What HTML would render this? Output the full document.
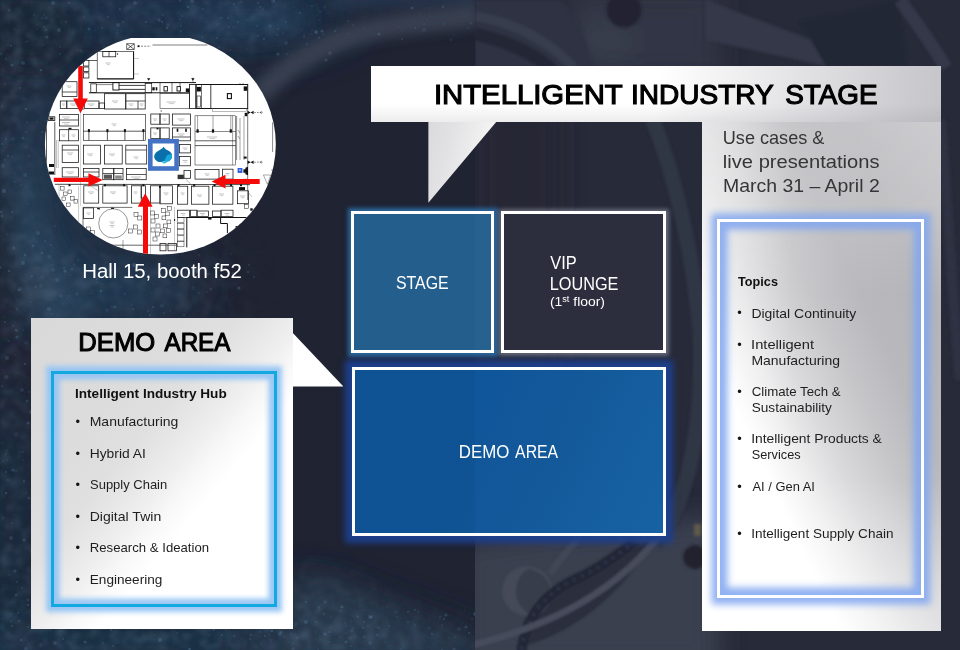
<!DOCTYPE html>
<html lang="en">
<head>
<meta charset="utf-8">
<title>Intelligent Industry Stage</title>
<style>
*{box-sizing:border-box;margin:0;padding:0}
html,body{width:960px;height:650px;overflow:hidden;background:#212539}
body{font-family:"Liberation Sans",sans-serif;color:#111;position:relative}
#page{position:absolute;left:0;top:0;width:960px;height:650px;overflow:hidden;background:#212539}
.abs{position:absolute}
.t{position:absolute;white-space:nowrap;line-height:1;transform-origin:0 0}
.b{font-weight:bold}
sup{font-size:66%;line-height:0;vertical-align:baseline;position:relative;top:-0.44em}
.bl{font-size:12.9px;color:#161616;transform:translateZ(0)}
#bg{position:absolute;left:0;top:0;width:960px;height:650px}
#map{position:absolute;left:44px;top:38px;width:232px;height:218px;overflow:hidden}
#banner{left:371.3px;top:65.8px;width:569.6px;height:56.4px;background:linear-gradient(180deg,rgba(0,0,0,0) 0%,rgba(0,0,0,0) 68%,rgba(110,110,120,.13) 100%),linear-gradient(97deg,#fff 0%,#fff 50%,#efeff0 64%,#dcdcdf 80%,#cbcbcf 94%,#c6c6ca 100%)}
#bannertri{left:428.4px;top:121.9px;width:67.8px;height:80.8px;background:linear-gradient(105deg,#dadadc 0%,#e2e2e4 30%,#f4f4f4 75%,#f8f8f8 100%);clip-path:polygon(0 0,100% 0,0 100%)}
#rpanel{left:701.9px;top:122.2px;width:239px;height:508.7px;background:linear-gradient(90deg,rgba(255,255,255,.34) 0%,rgba(255,255,255,.26) 14%,rgba(255,255,255,0) 38%),linear-gradient(0deg,rgba(255,255,255,.38) 0%,rgba(255,255,255,.3) 10%,rgba(255,255,255,0) 30%),linear-gradient(180deg,rgba(255,255,255,.2) 0%,rgba(255,255,255,.16) 16%,rgba(255,255,255,0) 34%),linear-gradient(to top right,#fff 0%,#fff 29%,#eeeeef 37%,#dadadc 45%,#c6c6c9 56%,#b9b9bd 66%,#b5b5b9 80%,#c0c0c4 100%)}
#rbox{left:716.7px;top:219.4px;width:207.7px;height:378.8px;border:3.7px solid #fff;box-shadow:0 0 7px 6.5px rgba(130,166,240,.88),inset 0 0 7px 7.5px rgba(130,166,240,.88)}
.box{position:absolute;border:3.7px solid #fff;color:#fff}
#stage{left:350.5px;top:210.5px;width:143.7px;height:142.7px;background:linear-gradient(90deg,#235e8d 0,#235e8d 121.3px,#27618f 121.3px,#27618f 100%);box-shadow:0 0 4px 3.5px #2b669a}
#vip{left:500.6px;top:210.5px;width:165.6px;height:142.7px;background:#2c2e3d;box-shadow:0 0 4px 2.5px rgba(215,220,235,.36)}
#demo{left:351.7px;top:366.8px;width:314.5px;height:169.2px;background:linear-gradient(90deg,rgba(0,10,40,.05) 0,rgba(0,10,40,.05) 120.1px,rgba(0,0,0,0) 120.1px),linear-gradient(115deg,#10569a 0%,#10569a 38%,#13599a 60%,#1762a4 100%);box-shadow:0 0 6px 7px rgba(29,64,142,.96)}
#lpanel{left:31px;top:317.9px;width:262.1px;height:310.8px;background:linear-gradient(to bottom right,#d9d9d9 0%,#dcdcdc 28%,#e0e0e0 40%,#e7e7e7 46%,#efefef 52%,#f8f8f8 57%,#fff 63%,#fff 100%)}
#ltri{left:292.6px;top:332.8px;width:50.8px;height:53.8px;background:#fff;clip-path:polygon(0 0,100% 100%,0 100%)}
#lbox{left:51.2px;top:371px;width:226px;height:236px;border:3.4px solid #12a8e0;box-shadow:0 0 5px 4.8px rgba(148,196,243,.95),inset 0 0 5px 5.5px rgba(148,196,243,.95)}

</style>
</head>
<body>
<div id="page">
<svg id="bg" width="960" height="650" viewBox="0 0 960 650">
<defs>
<filter id="b6" x="-20%" y="-20%" width="140%" height="140%"><feGaussianBlur stdDeviation="6"/></filter>
<filter id="b12" x="-30%" y="-30%" width="160%" height="160%"><feGaussianBlur stdDeviation="12"/></filter>
<filter id="b25" x="-50%" y="-50%" width="200%" height="200%"><feGaussianBlur stdDeviation="25"/></filter>
<filter id="b1" x="-20%" y="-20%" width="140%" height="140%"><feGaussianBlur stdDeviation="0.9"/></filter>
<filter id="b05" x="0" y="0" width="100%" height="100%"><feGaussianBlur stdDeviation="0.5"/></filter>
<filter id="b3" x="-20%" y="-20%" width="140%" height="140%"><feGaussianBlur stdDeviation="1.6"/></filter>
<filter id="sp" x="0" y="0" width="100%" height="100%">
<feTurbulence type="fractalNoise" baseFrequency="0.09" numOctaves="3" seed="11" result="n"/>
<feColorMatrix type="matrix" values="0 0 0 0 0.20  0 0 0 0 0.31  0 0 0 0 0.44  1.6 1.6 0 0 -1.35"/>
<feGaussianBlur stdDeviation="1.8"/>
</filter>
<radialGradient id="swirl" cx="0.5" cy="0.5" r="0.5"><stop offset="0" stop-color="#fff"/><stop offset="0.62" stop-color="#fff"/><stop offset="1" stop-color="#000"/></radialGradient>
<mask id="lm" maskUnits="userSpaceOnUse" x="0" y="0" width="476" height="650">
<rect x="0" y="0" width="476" height="650" fill="#000"/>
<g filter="url(#b25)">
<path d="M-20 -20H330L250 50L120 30L40 90L20 200L60 300L20 330L40 650H-20Z" fill="#fff"/>
<path d="M-20 600L200 610L300 580L480 650V680H-20Z" fill="#fff"/>
<path d="M30 250H240V320H30Z" fill="#bbb"/>
</g>
</mask>
<clipPath id="lc"><rect x="0" y="0" width="475.5" height="650"/></clipPath>
<clipPath id="rc"><rect x="475.5" y="0" width="484.5" height="650"/></clipPath>
</defs>
<g clip-path="url(#lc)">
<rect x="0" y="0" width="476" height="650" fill="#1f2332"/>
<g filter="url(#b25)">
<ellipse cx="170" cy="10" rx="190" ry="45" fill="#1e3248"/>
<ellipse cx="40" cy="200" rx="50" ry="130" fill="#20364c"/>
<ellipse cx="105" cy="290" rx="95" ry="36" fill="#223b52"/>
<ellipse cx="10" cy="520" rx="34" ry="150" fill="#1c2a3e"/>
<ellipse cx="140" cy="650" rx="220" ry="34" fill="#1f344a"/>
<path d="M250 600L320 590L490 655V700H250Z" fill="#27394c"/>
</g>
<g filter="url(#b12)">
<path d="M26 150C32 200 44 250 96 318L40 326C18 280 8 220 6 160Z" fill="#2a475e" opacity="0.85"/>
<ellipse cx="38" cy="286" rx="14" ry="16" fill="#3a4253" opacity="0.7"/>
<ellipse cx="250" cy="22" rx="60" ry="18" fill="#24405b" opacity="0.8"/>
<ellipse cx="30" cy="30" rx="50" ry="40" fill="#1b2536" opacity="0.8"/>
<ellipse cx="4" cy="250" rx="12" ry="90" fill="#1c2232" opacity="0.9"/>
<path d="M296 575L330 578L480 648V660H296Z" fill="#293b4f" opacity="0.7"/>
</g>
<g filter="url(#b6)">
<path d="M258 96C288 62 330 40 372 30C400 23 440 21 480 15" fill="none" stroke="#3b4253" stroke-width="22" opacity="0.9"/>
<path d="M330 0C380 -2 430 -4 480 -8" fill="none" stroke="#263a52" stroke-width="22" opacity="0.8"/>
</g>
<rect x="0" y="0" width="476" height="650" filter="url(#sp)" mask="url(#lm)" opacity="0.26"/>
<g fill="#5b7fa3" filter="url(#b05)"><circle cx="206" cy="46" r="2.0" opacity="0.11"/><circle cx="154" cy="58" r="0.6" opacity="0.32"/><circle cx="37" cy="29" r="0.9" opacity="0.19"/><circle cx="34" cy="15" r="0.9" opacity="0.20"/><circle cx="60" cy="54" r="1.3" opacity="0.14"/><circle cx="263" cy="9" r="1.6" opacity="0.13"/><circle cx="1" cy="54" r="0.9" opacity="0.29"/><circle cx="317" cy="10" r="0.8" opacity="0.17"/><circle cx="317" cy="33" r="0.9" opacity="0.14"/><circle cx="320" cy="12" r="1.3" opacity="0.17"/><circle cx="119" cy="10" r="0.8" opacity="0.16"/><circle cx="110" cy="51" r="0.6" opacity="0.24"/><circle cx="234" cy="4" r="1.1" opacity="0.30"/><circle cx="159" cy="20" r="1.6" opacity="0.21"/><circle cx="58" cy="16" r="0.6" opacity="0.33"/><circle cx="118" cy="25" r="2.0" opacity="0.29"/><circle cx="121" cy="36" r="0.6" opacity="0.21"/><circle cx="234" cy="39" r="0.9" opacity="0.13"/><circle cx="81" cy="51" r="1.6" opacity="0.18"/><circle cx="117" cy="33" r="1.6" opacity="0.13"/><circle cx="247" cy="49" r="1.0" opacity="0.11"/><circle cx="312" cy="6" r="1.1" opacity="0.22"/><circle cx="120" cy="9" r="1.0" opacity="0.32"/><circle cx="180" cy="19" r="1.1" opacity="0.17"/><circle cx="264" cy="39" r="1.0" opacity="0.34"/><circle cx="53" cy="3" r="2.0" opacity="0.32"/><circle cx="11" cy="46" r="1.1" opacity="0.30"/><circle cx="150" cy="26" r="0.6" opacity="0.33"/><circle cx="211" cy="50" r="1.1" opacity="0.30"/><circle cx="43" cy="45" r="0.8" opacity="0.25"/><circle cx="260" cy="7" r="1.3" opacity="0.19"/><circle cx="19" cy="26" r="0.8" opacity="0.21"/><circle cx="330" cy="53" r="2.0" opacity="0.21"/><circle cx="161" cy="45" r="1.6" opacity="0.17"/><circle cx="155" cy="56" r="0.7" opacity="0.19"/><circle cx="326" cy="60" r="1.6" opacity="0.31"/><circle cx="59" cy="30" r="2.0" opacity="0.29"/><circle cx="286" cy="22" r="1.1" opacity="0.27"/><circle cx="219" cy="47" r="1.1" opacity="0.23"/><circle cx="221" cy="52" r="1.0" opacity="0.28"/><circle cx="228" cy="18" r="1.1" opacity="0.26"/><circle cx="192" cy="1" r="2.0" opacity="0.29"/><circle cx="108" cy="17" r="1.0" opacity="0.30"/><circle cx="214" cy="49" r="1.1" opacity="0.17"/><circle cx="114" cy="58" r="1.3" opacity="0.18"/><circle cx="278" cy="54" r="1.6" opacity="0.33"/><circle cx="316" cy="32" r="2.0" opacity="0.34"/><circle cx="66" cy="22" r="1.6" opacity="0.17"/><circle cx="26" cy="42" r="1.3" opacity="0.14"/><circle cx="258" cy="36" r="1.3" opacity="0.17"/><circle cx="183" cy="54" r="1.0" opacity="0.27"/><circle cx="9" cy="10" r="1.6" opacity="0.25"/><circle cx="60" cy="47" r="0.8" opacity="0.25"/><circle cx="14" cy="29" r="0.9" opacity="0.14"/><circle cx="294" cy="7" r="0.8" opacity="0.22"/><circle cx="181" cy="26" r="1.1" opacity="0.19"/><circle cx="202" cy="37" r="0.9" opacity="0.27"/><circle cx="123" cy="22" r="1.0" opacity="0.31"/><circle cx="286" cy="43" r="2.0" opacity="0.19"/><circle cx="12" cy="38" r="0.7" opacity="0.17"/><circle cx="169" cy="59" r="1.0" opacity="0.33"/><circle cx="270" cy="26" r="2.0" opacity="0.19"/><circle cx="47" cy="37" r="1.6" opacity="0.33"/><circle cx="319" cy="38" r="1.1" opacity="0.30"/><circle cx="218" cy="24" r="1.1" opacity="0.24"/><circle cx="203" cy="9" r="1.3" opacity="0.20"/><circle cx="322" cy="31" r="1.6" opacity="0.33"/><circle cx="125" cy="60" r="0.8" opacity="0.24"/><circle cx="86" cy="61" r="1.6" opacity="0.16"/><circle cx="6" cy="59" r="1.0" opacity="0.22"/><circle cx="95" cy="30" r="0.7" opacity="0.26"/><circle cx="317" cy="15" r="0.6" opacity="0.29"/><circle cx="273" cy="1" r="2.0" opacity="0.23"/><circle cx="80" cy="29" r="0.6" opacity="0.16"/><circle cx="88" cy="10" r="1.0" opacity="0.17"/><circle cx="201" cy="29" r="0.7" opacity="0.10"/><circle cx="42" cy="18" r="1.1" opacity="0.25"/><circle cx="241" cy="2" r="1.1" opacity="0.19"/><circle cx="246" cy="37" r="0.6" opacity="0.10"/><circle cx="183" cy="43" r="0.7" opacity="0.31"/><circle cx="180" cy="1" r="1.3" opacity="0.24"/><circle cx="227" cy="59" r="1.6" opacity="0.31"/><circle cx="278" cy="29" r="0.9" opacity="0.32"/><circle cx="153" cy="47" r="1.0" opacity="0.30"/><circle cx="229" cy="27" r="1.0" opacity="0.26"/><circle cx="156" cy="19" r="0.8" opacity="0.21"/><circle cx="181" cy="31" r="1.1" opacity="0.23"/><circle cx="140" cy="34" r="0.6" opacity="0.12"/><circle cx="76" cy="51" r="0.7" opacity="0.26"/><circle cx="8" cy="45" r="0.7" opacity="0.34"/><circle cx="231" cy="3" r="0.7" opacity="0.15"/><circle cx="213" cy="59" r="0.8" opacity="0.34"/><circle cx="233" cy="27" r="0.8" opacity="0.25"/><circle cx="137" cy="10" r="0.9" opacity="0.11"/><circle cx="36" cy="24" r="0.7" opacity="0.17"/><circle cx="188" cy="7" r="1.3" opacity="0.31"/><circle cx="44" cy="27" r="1.1" opacity="0.26"/><circle cx="162" cy="22" r="1.1" opacity="0.32"/><circle cx="46" cy="18" r="2.0" opacity="0.17"/><circle cx="311" cy="34" r="0.9" opacity="0.16"/><circle cx="182" cy="16" r="1.0" opacity="0.22"/><circle cx="44" cy="15" r="1.1" opacity="0.21"/><circle cx="128" cy="8" r="0.6" opacity="0.26"/><circle cx="28" cy="41" r="0.7" opacity="0.31"/><circle cx="167" cy="28" r="1.3" opacity="0.31"/><circle cx="159" cy="20" r="2.0" opacity="0.11"/><circle cx="239" cy="3" r="0.8" opacity="0.33"/><circle cx="142" cy="49" r="0.7" opacity="0.12"/><circle cx="301" cy="30" r="0.9" opacity="0.13"/><circle cx="206" cy="22" r="0.9" opacity="0.17"/><circle cx="307" cy="44" r="1.3" opacity="0.19"/><circle cx="238" cy="22" r="1.0" opacity="0.29"/><circle cx="143" cy="53" r="2.0" opacity="0.11"/><circle cx="328" cy="13" r="0.8" opacity="0.19"/><circle cx="32" cy="2" r="0.9" opacity="0.15"/><circle cx="162" cy="58" r="1.1" opacity="0.10"/><circle cx="155" cy="55" r="1.3" opacity="0.18"/><circle cx="152" cy="12" r="0.8" opacity="0.12"/><circle cx="287" cy="54" r="1.6" opacity="0.14"/><circle cx="84" cy="17" r="0.8" opacity="0.28"/><circle cx="222" cy="2" r="0.6" opacity="0.18"/><circle cx="248" cy="20" r="0.6" opacity="0.27"/><circle cx="222" cy="29" r="0.8" opacity="0.13"/><circle cx="221" cy="18" r="0.9" opacity="0.28"/><circle cx="54" cy="12" r="0.6" opacity="0.24"/><circle cx="217" cy="38" r="1.1" opacity="0.26"/><circle cx="61" cy="22" r="0.7" opacity="0.28"/><circle cx="237" cy="10" r="0.9" opacity="0.14"/><circle cx="69" cy="3" r="1.3" opacity="0.27"/><circle cx="89" cy="29" r="1.6" opacity="0.29"/><circle cx="135" cy="3" r="2.0" opacity="0.30"/><circle cx="276" cy="35" r="0.7" opacity="0.27"/><circle cx="78" cy="50" r="0.7" opacity="0.32"/><circle cx="18" cy="15" r="0.6" opacity="0.22"/><circle cx="258" cy="3" r="1.3" opacity="0.21"/><circle cx="211" cy="54" r="0.9" opacity="0.14"/><circle cx="168" cy="25" r="2.0" opacity="0.16"/><circle cx="306" cy="49" r="0.7" opacity="0.23"/><circle cx="304" cy="37" r="0.9" opacity="0.25"/><circle cx="146" cy="22" r="1.3" opacity="0.24"/><circle cx="124" cy="39" r="0.6" opacity="0.32"/><circle cx="102" cy="28" r="0.9" opacity="0.23"/><circle cx="46" cy="30" r="1.0" opacity="0.30"/><circle cx="103" cy="8" r="0.7" opacity="0.21"/><circle cx="230" cy="50" r="0.9" opacity="0.17"/><circle cx="163" cy="15" r="0.9" opacity="0.29"/><circle cx="291" cy="55" r="0.7" opacity="0.20"/><circle cx="104" cy="47" r="2.0" opacity="0.10"/><circle cx="94" cy="58" r="0.8" opacity="0.24"/><circle cx="146" cy="51" r="0.6" opacity="0.27"/><circle cx="42" cy="132" r="1.3" opacity="0.23"/><circle cx="19" cy="143" r="0.8" opacity="0.16"/><circle cx="41" cy="137" r="0.7" opacity="0.23"/><circle cx="44" cy="68" r="0.7" opacity="0.11"/><circle cx="8" cy="156" r="1.0" opacity="0.33"/><circle cx="37" cy="122" r="1.3" opacity="0.13"/><circle cx="12" cy="157" r="0.8" opacity="0.24"/><circle cx="50" cy="256" r="0.7" opacity="0.16"/><circle cx="36" cy="230" r="0.8" opacity="0.21"/><circle cx="56" cy="275" r="0.7" opacity="0.18"/><circle cx="27" cy="122" r="1.3" opacity="0.14"/><circle cx="3" cy="240" r="0.8" opacity="0.23"/><circle cx="58" cy="221" r="0.7" opacity="0.13"/><circle cx="51" cy="245" r="0.9" opacity="0.33"/><circle cx="2" cy="216" r="1.6" opacity="0.27"/><circle cx="21" cy="185" r="0.9" opacity="0.17"/><circle cx="12" cy="212" r="1.1" opacity="0.28"/><circle cx="47" cy="159" r="0.9" opacity="0.30"/><circle cx="40" cy="305" r="0.6" opacity="0.25"/><circle cx="24" cy="99" r="0.9" opacity="0.22"/><circle cx="2" cy="106" r="0.7" opacity="0.28"/><circle cx="17" cy="309" r="1.1" opacity="0.21"/><circle cx="28" cy="204" r="0.7" opacity="0.29"/><circle cx="23" cy="63" r="2.0" opacity="0.25"/><circle cx="37" cy="280" r="0.6" opacity="0.18"/><circle cx="2" cy="144" r="1.3" opacity="0.22"/><circle cx="33" cy="246" r="1.6" opacity="0.34"/><circle cx="49" cy="309" r="2.0" opacity="0.26"/><circle cx="32" cy="276" r="1.1" opacity="0.33"/><circle cx="1" cy="268" r="0.9" opacity="0.17"/><circle cx="5" cy="84" r="1.1" opacity="0.25"/><circle cx="52" cy="314" r="1.3" opacity="0.17"/><circle cx="56" cy="134" r="0.9" opacity="0.12"/><circle cx="45" cy="241" r="1.0" opacity="0.32"/><circle cx="41" cy="286" r="2.0" opacity="0.15"/><circle cx="31" cy="302" r="0.9" opacity="0.18"/><circle cx="47" cy="174" r="0.6" opacity="0.26"/><circle cx="23" cy="263" r="2.0" opacity="0.32"/><circle cx="55" cy="226" r="1.3" opacity="0.18"/><circle cx="51" cy="300" r="1.1" opacity="0.16"/><circle cx="6" cy="139" r="1.0" opacity="0.29"/><circle cx="5" cy="317" r="0.7" opacity="0.25"/><circle cx="46" cy="121" r="0.7" opacity="0.24"/><circle cx="38" cy="233" r="2.0" opacity="0.27"/><circle cx="25" cy="175" r="2.0" opacity="0.24"/><circle cx="15" cy="173" r="0.7" opacity="0.25"/><circle cx="58" cy="111" r="0.6" opacity="0.14"/><circle cx="18" cy="210" r="0.8" opacity="0.20"/><circle cx="20" cy="88" r="1.1" opacity="0.27"/><circle cx="4" cy="191" r="2.0" opacity="0.33"/><circle cx="19" cy="290" r="1.3" opacity="0.32"/><circle cx="14" cy="248" r="1.6" opacity="0.30"/><circle cx="0" cy="242" r="0.7" opacity="0.12"/><circle cx="9" cy="226" r="0.7" opacity="0.24"/><circle cx="26" cy="147" r="0.8" opacity="0.27"/><circle cx="55" cy="318" r="0.7" opacity="0.19"/><circle cx="49" cy="113" r="1.1" opacity="0.19"/><circle cx="28" cy="244" r="0.7" opacity="0.16"/><circle cx="56" cy="186" r="0.6" opacity="0.13"/><circle cx="36" cy="161" r="0.6" opacity="0.22"/><circle cx="58" cy="315" r="0.7" opacity="0.22"/><circle cx="56" cy="252" r="0.6" opacity="0.13"/><circle cx="29" cy="156" r="0.9" opacity="0.32"/><circle cx="23" cy="138" r="1.6" opacity="0.25"/><circle cx="46" cy="84" r="0.7" opacity="0.17"/><circle cx="20" cy="289" r="2.0" opacity="0.20"/><circle cx="13" cy="326" r="1.0" opacity="0.26"/><circle cx="4" cy="133" r="0.7" opacity="0.23"/><circle cx="26" cy="109" r="1.3" opacity="0.31"/><circle cx="15" cy="182" r="0.8" opacity="0.29"/><circle cx="0" cy="267" r="1.1" opacity="0.29"/><circle cx="1" cy="212" r="1.3" opacity="0.31"/><circle cx="5" cy="322" r="0.9" opacity="0.33"/><circle cx="27" cy="187" r="0.7" opacity="0.33"/><circle cx="36" cy="287" r="1.6" opacity="0.22"/><circle cx="3" cy="166" r="2.0" opacity="0.20"/><circle cx="36" cy="304" r="0.6" opacity="0.15"/><circle cx="25" cy="255" r="1.3" opacity="0.32"/><circle cx="23" cy="330" r="0.8" opacity="0.31"/><circle cx="9" cy="271" r="1.3" opacity="0.30"/><circle cx="5" cy="160" r="1.3" opacity="0.20"/><circle cx="16" cy="187" r="1.0" opacity="0.10"/><circle cx="38" cy="268" r="1.6" opacity="0.12"/><circle cx="41" cy="70" r="1.3" opacity="0.31"/><circle cx="12" cy="65" r="1.6" opacity="0.33"/><circle cx="36" cy="97" r="0.9" opacity="0.12"/><circle cx="22" cy="227" r="0.6" opacity="0.14"/><circle cx="26" cy="132" r="1.1" opacity="0.18"/><circle cx="13" cy="139" r="2.0" opacity="0.12"/><circle cx="7" cy="234" r="1.1" opacity="0.17"/><circle cx="239" cy="288" r="1.6" opacity="0.33"/><circle cx="93" cy="290" r="1.0" opacity="0.10"/><circle cx="43" cy="277" r="0.9" opacity="0.22"/><circle cx="195" cy="251" r="0.9" opacity="0.20"/><circle cx="151" cy="293" r="1.0" opacity="0.11"/><circle cx="150" cy="253" r="1.3" opacity="0.31"/><circle cx="211" cy="289" r="1.6" opacity="0.21"/><circle cx="184" cy="315" r="1.1" opacity="0.24"/><circle cx="101" cy="291" r="1.3" opacity="0.34"/><circle cx="106" cy="262" r="0.7" opacity="0.25"/><circle cx="52" cy="265" r="1.3" opacity="0.12"/><circle cx="153" cy="307" r="1.1" opacity="0.30"/><circle cx="70" cy="275" r="1.6" opacity="0.10"/><circle cx="164" cy="290" r="0.6" opacity="0.11"/><circle cx="59" cy="274" r="0.8" opacity="0.19"/><circle cx="115" cy="307" r="1.6" opacity="0.29"/><circle cx="203" cy="268" r="0.6" opacity="0.25"/><circle cx="125" cy="294" r="0.9" opacity="0.27"/><circle cx="170" cy="311" r="0.8" opacity="0.24"/><circle cx="164" cy="313" r="1.1" opacity="0.23"/><circle cx="42" cy="253" r="1.6" opacity="0.26"/><circle cx="183" cy="252" r="1.3" opacity="0.13"/><circle cx="199" cy="293" r="0.9" opacity="0.23"/><circle cx="193" cy="299" r="0.7" opacity="0.11"/><circle cx="197" cy="271" r="2.0" opacity="0.31"/><circle cx="199" cy="255" r="1.0" opacity="0.13"/><circle cx="206" cy="268" r="1.0" opacity="0.17"/><circle cx="233" cy="273" r="1.6" opacity="0.21"/><circle cx="74" cy="265" r="1.0" opacity="0.18"/><circle cx="175" cy="282" r="0.8" opacity="0.18"/><circle cx="57" cy="280" r="2.0" opacity="0.26"/><circle cx="78" cy="260" r="1.6" opacity="0.14"/><circle cx="150" cy="315" r="1.1" opacity="0.32"/><circle cx="72" cy="269" r="1.6" opacity="0.22"/><circle cx="249" cy="265" r="0.9" opacity="0.26"/><circle cx="132" cy="305" r="1.1" opacity="0.17"/><circle cx="64" cy="268" r="1.1" opacity="0.30"/><circle cx="154" cy="284" r="0.7" opacity="0.33"/><circle cx="66" cy="304" r="1.1" opacity="0.12"/><circle cx="232" cy="270" r="0.8" opacity="0.11"/><circle cx="254" cy="277" r="1.1" opacity="0.27"/><circle cx="97" cy="279" r="1.1" opacity="0.31"/><circle cx="109" cy="270" r="1.1" opacity="0.20"/><circle cx="231" cy="254" r="1.0" opacity="0.12"/><circle cx="49" cy="257" r="2.0" opacity="0.20"/><circle cx="142" cy="255" r="1.3" opacity="0.11"/><circle cx="164" cy="270" r="0.7" opacity="0.26"/><circle cx="111" cy="275" r="0.7" opacity="0.21"/><circle cx="63" cy="304" r="0.7" opacity="0.25"/><circle cx="61" cy="296" r="2.0" opacity="0.19"/><circle cx="65" cy="271" r="1.6" opacity="0.33"/><circle cx="134" cy="265" r="2.0" opacity="0.34"/><circle cx="69" cy="296" r="0.8" opacity="0.32"/><circle cx="112" cy="307" r="2.0" opacity="0.12"/><circle cx="107" cy="310" r="1.6" opacity="0.17"/><circle cx="162" cy="306" r="2.0" opacity="0.16"/><circle cx="77" cy="294" r="1.6" opacity="0.21"/><circle cx="207" cy="292" r="0.8" opacity="0.24"/><circle cx="141" cy="317" r="0.7" opacity="0.21"/><circle cx="91" cy="267" r="0.7" opacity="0.27"/><circle cx="97" cy="282" r="0.8" opacity="0.29"/><circle cx="146" cy="271" r="1.0" opacity="0.25"/><circle cx="193" cy="288" r="2.0" opacity="0.13"/><circle cx="208" cy="274" r="1.6" opacity="0.25"/><circle cx="148" cy="311" r="1.0" opacity="0.25"/><circle cx="53" cy="270" r="2.0" opacity="0.20"/><circle cx="131" cy="318" r="0.8" opacity="0.17"/><circle cx="83" cy="317" r="0.6" opacity="0.10"/><circle cx="248" cy="272" r="1.3" opacity="0.26"/><circle cx="133" cy="309" r="1.6" opacity="0.18"/><circle cx="23" cy="482" r="0.6" opacity="0.14"/><circle cx="16" cy="330" r="1.6" opacity="0.29"/><circle cx="27" cy="343" r="2.0" opacity="0.10"/><circle cx="31" cy="551" r="0.8" opacity="0.33"/><circle cx="27" cy="401" r="1.3" opacity="0.26"/><circle cx="12" cy="523" r="0.9" opacity="0.25"/><circle cx="29" cy="392" r="0.9" opacity="0.24"/><circle cx="24" cy="481" r="1.3" opacity="0.24"/><circle cx="7" cy="358" r="2.0" opacity="0.24"/><circle cx="24" cy="463" r="0.6" opacity="0.31"/><circle cx="17" cy="331" r="1.3" opacity="0.11"/><circle cx="0" cy="560" r="0.7" opacity="0.14"/><circle cx="28" cy="600" r="1.6" opacity="0.21"/><circle cx="17" cy="337" r="1.6" opacity="0.30"/><circle cx="20" cy="545" r="0.9" opacity="0.10"/><circle cx="28" cy="627" r="0.9" opacity="0.33"/><circle cx="22" cy="390" r="2.0" opacity="0.19"/><circle cx="3" cy="396" r="0.6" opacity="0.11"/><circle cx="2" cy="386" r="1.3" opacity="0.19"/><circle cx="25" cy="364" r="1.3" opacity="0.27"/><circle cx="7" cy="451" r="1.6" opacity="0.14"/><circle cx="31" cy="412" r="2.0" opacity="0.28"/><circle cx="22" cy="588" r="1.0" opacity="0.28"/><circle cx="28" cy="605" r="1.3" opacity="0.30"/><circle cx="29" cy="498" r="1.6" opacity="0.28"/><circle cx="6" cy="505" r="0.6" opacity="0.15"/><circle cx="17" cy="582" r="1.1" opacity="0.25"/><circle cx="23" cy="460" r="0.8" opacity="0.25"/><circle cx="6" cy="493" r="1.3" opacity="0.33"/><circle cx="24" cy="540" r="1.6" opacity="0.33"/><circle cx="27" cy="428" r="0.7" opacity="0.22"/><circle cx="12" cy="626" r="1.1" opacity="0.28"/><circle cx="15" cy="571" r="1.6" opacity="0.31"/><circle cx="11" cy="621" r="1.3" opacity="0.14"/><circle cx="14" cy="462" r="0.6" opacity="0.16"/><circle cx="9" cy="575" r="0.7" opacity="0.29"/><circle cx="15" cy="355" r="1.1" opacity="0.12"/><circle cx="23" cy="452" r="1.1" opacity="0.18"/><circle cx="25" cy="343" r="0.7" opacity="0.32"/><circle cx="28" cy="559" r="0.7" opacity="0.11"/><circle cx="16" cy="471" r="1.6" opacity="0.17"/><circle cx="14" cy="515" r="0.7" opacity="0.33"/><circle cx="17" cy="594" r="0.7" opacity="0.24"/><circle cx="2" cy="443" r="1.3" opacity="0.12"/><circle cx="11" cy="614" r="0.7" opacity="0.34"/><circle cx="28" cy="437" r="0.7" opacity="0.21"/><circle cx="3" cy="589" r="1.1" opacity="0.11"/><circle cx="31" cy="540" r="0.6" opacity="0.24"/><circle cx="28" cy="423" r="1.6" opacity="0.30"/><circle cx="16" cy="434" r="2.0" opacity="0.12"/><circle cx="16" cy="595" r="1.3" opacity="0.26"/><circle cx="20" cy="452" r="1.3" opacity="0.13"/><circle cx="2" cy="427" r="0.6" opacity="0.17"/><circle cx="12" cy="511" r="0.7" opacity="0.14"/><circle cx="14" cy="550" r="0.6" opacity="0.24"/><circle cx="19" cy="540" r="0.6" opacity="0.12"/><circle cx="3" cy="518" r="1.0" opacity="0.20"/><circle cx="7" cy="460" r="1.0" opacity="0.14"/><circle cx="11" cy="538" r="2.0" opacity="0.24"/><circle cx="13" cy="470" r="1.6" opacity="0.30"/><circle cx="6" cy="472" r="1.1" opacity="0.30"/><circle cx="3" cy="461" r="1.0" opacity="0.19"/><circle cx="25" cy="613" r="0.7" opacity="0.19"/><circle cx="27" cy="629" r="0.8" opacity="0.13"/><circle cx="26" cy="493" r="1.1" opacity="0.17"/><circle cx="6" cy="454" r="1.3" opacity="0.18"/><circle cx="6" cy="377" r="2.0" opacity="0.21"/><circle cx="9" cy="341" r="0.9" opacity="0.26"/><circle cx="8" cy="480" r="2.0" opacity="0.11"/><circle cx="4" cy="496" r="0.7" opacity="0.18"/><circle cx="294" cy="612" r="0.6" opacity="0.11"/><circle cx="240" cy="617" r="2.0" opacity="0.15"/><circle cx="442" cy="650" r="1.1" opacity="0.29"/><circle cx="106" cy="626" r="0.6" opacity="0.27"/><circle cx="364" cy="610" r="1.0" opacity="0.13"/><circle cx="432" cy="634" r="1.1" opacity="0.29"/><circle cx="122" cy="613" r="1.0" opacity="0.17"/><circle cx="188" cy="616" r="1.6" opacity="0.30"/><circle cx="368" cy="626" r="0.9" opacity="0.30"/><circle cx="350" cy="638" r="2.0" opacity="0.15"/><circle cx="319" cy="609" r="1.6" opacity="0.11"/><circle cx="125" cy="626" r="0.7" opacity="0.28"/><circle cx="444" cy="619" r="0.9" opacity="0.33"/><circle cx="234" cy="643" r="0.6" opacity="0.24"/><circle cx="155" cy="623" r="1.1" opacity="0.16"/><circle cx="103" cy="643" r="1.0" opacity="0.21"/><circle cx="329" cy="632" r="0.9" opacity="0.15"/><circle cx="3" cy="619" r="0.9" opacity="0.16"/><circle cx="184" cy="634" r="0.9" opacity="0.17"/><circle cx="351" cy="614" r="0.8" opacity="0.13"/><circle cx="284" cy="637" r="1.6" opacity="0.15"/><circle cx="211" cy="619" r="1.0" opacity="0.12"/><circle cx="90" cy="626" r="2.0" opacity="0.26"/><circle cx="325" cy="634" r="1.6" opacity="0.33"/><circle cx="476" cy="606" r="0.6" opacity="0.23"/><circle cx="291" cy="634" r="1.0" opacity="0.19"/><circle cx="402" cy="643" r="1.1" opacity="0.13"/><circle cx="214" cy="630" r="0.9" opacity="0.28"/><circle cx="293" cy="643" r="1.6" opacity="0.14"/><circle cx="262" cy="614" r="0.8" opacity="0.17"/><circle cx="397" cy="617" r="1.1" opacity="0.17"/><circle cx="54" cy="616" r="0.9" opacity="0.33"/><circle cx="387" cy="622" r="1.0" opacity="0.12"/><circle cx="190" cy="649" r="1.3" opacity="0.26"/><circle cx="346" cy="626" r="2.0" opacity="0.11"/><circle cx="474" cy="623" r="0.6" opacity="0.15"/><circle cx="370" cy="617" r="2.0" opacity="0.26"/><circle cx="177" cy="633" r="0.8" opacity="0.32"/><circle cx="340" cy="637" r="0.9" opacity="0.24"/><circle cx="377" cy="635" r="1.0" opacity="0.28"/><circle cx="109" cy="627" r="2.0" opacity="0.30"/><circle cx="85" cy="642" r="1.6" opacity="0.33"/><circle cx="213" cy="630" r="0.9" opacity="0.18"/><circle cx="343" cy="648" r="0.7" opacity="0.13"/><circle cx="214" cy="626" r="0.6" opacity="0.31"/><circle cx="70" cy="627" r="0.8" opacity="0.33"/><circle cx="385" cy="642" r="0.7" opacity="0.30"/><circle cx="212" cy="613" r="0.7" opacity="0.28"/><circle cx="160" cy="640" r="2.0" opacity="0.34"/><circle cx="250" cy="639" r="1.1" opacity="0.27"/><circle cx="466" cy="627" r="1.6" opacity="0.30"/><circle cx="429" cy="620" r="1.1" opacity="0.10"/><circle cx="475" cy="614" r="2.0" opacity="0.32"/><circle cx="133" cy="618" r="0.9" opacity="0.21"/><circle cx="32" cy="627" r="1.6" opacity="0.16"/><circle cx="199" cy="615" r="1.3" opacity="0.10"/><circle cx="57" cy="612" r="1.1" opacity="0.17"/><circle cx="113" cy="646" r="0.9" opacity="0.34"/><circle cx="50" cy="630" r="1.0" opacity="0.13"/><circle cx="251" cy="617" r="0.8" opacity="0.26"/><circle cx="415" cy="610" r="1.0" opacity="0.28"/><circle cx="261" cy="644" r="1.1" opacity="0.18"/><circle cx="88" cy="624" r="1.3" opacity="0.19"/><circle cx="55" cy="643" r="2.0" opacity="0.27"/><circle cx="354" cy="641" r="0.6" opacity="0.18"/><circle cx="269" cy="611" r="0.8" opacity="0.19"/><circle cx="462" cy="644" r="1.0" opacity="0.12"/><circle cx="205" cy="628" r="1.6" opacity="0.22"/><circle cx="354" cy="650" r="0.7" opacity="0.17"/><circle cx="373" cy="616" r="1.3" opacity="0.13"/><circle cx="280" cy="634" r="2.0" opacity="0.25"/><circle cx="251" cy="635" r="1.6" opacity="0.23"/><circle cx="176" cy="612" r="0.6" opacity="0.11"/><circle cx="296" cy="624" r="1.6" opacity="0.18"/><circle cx="112" cy="619" r="1.6" opacity="0.16"/><circle cx="109" cy="627" r="1.0" opacity="0.12"/><circle cx="41" cy="645" r="2.0" opacity="0.17"/><circle cx="342" cy="607" r="1.6" opacity="0.32"/><circle cx="319" cy="607" r="1.3" opacity="0.22"/><circle cx="418" cy="612" r="1.1" opacity="0.16"/><circle cx="31" cy="628" r="0.8" opacity="0.15"/><circle cx="454" cy="649" r="1.6" opacity="0.24"/><circle cx="415" cy="625" r="0.8" opacity="0.31"/><circle cx="232" cy="645" r="1.0" opacity="0.12"/><circle cx="222" cy="635" r="1.1" opacity="0.30"/><circle cx="449" cy="638" r="0.7" opacity="0.22"/><circle cx="316" cy="622" r="1.0" opacity="0.26"/><circle cx="19" cy="621" r="1.1" opacity="0.29"/><circle cx="408" cy="622" r="1.3" opacity="0.19"/><circle cx="128" cy="624" r="0.9" opacity="0.24"/><circle cx="361" cy="647" r="0.6" opacity="0.18"/><circle cx="21" cy="640" r="1.3" opacity="0.28"/><circle cx="295" cy="626" r="0.7" opacity="0.20"/><circle cx="93" cy="615" r="0.7" opacity="0.24"/><circle cx="181" cy="619" r="0.9" opacity="0.18"/><circle cx="198" cy="618" r="1.0" opacity="0.22"/><circle cx="82" cy="645" r="0.6" opacity="0.28"/><circle cx="157" cy="609" r="1.6" opacity="0.19"/><circle cx="143" cy="619" r="1.1" opacity="0.22"/><circle cx="234" cy="636" r="1.6" opacity="0.15"/><circle cx="189" cy="649" r="1.0" opacity="0.32"/><circle cx="298" cy="632" r="0.9" opacity="0.13"/><circle cx="363" cy="628" r="1.1" opacity="0.27"/><circle cx="370" cy="643" r="2.0" opacity="0.19"/><circle cx="209" cy="635" r="0.7" opacity="0.27"/><circle cx="105" cy="650" r="0.8" opacity="0.27"/><circle cx="472" cy="619" r="0.9" opacity="0.25"/><circle cx="341" cy="611" r="1.6" opacity="0.17"/><circle cx="297" cy="638" r="1.1" opacity="0.27"/><circle cx="151" cy="607" r="1.0" opacity="0.26"/><circle cx="226" cy="630" r="0.9" opacity="0.16"/><circle cx="36" cy="610" r="0.7" opacity="0.24"/><circle cx="469" cy="633" r="1.1" opacity="0.34"/><circle cx="238" cy="624" r="1.6" opacity="0.24"/><circle cx="154" cy="635" r="1.0" opacity="0.13"/><circle cx="459" cy="629" r="2.0" opacity="0.15"/><circle cx="455" cy="637" r="1.6" opacity="0.13"/><circle cx="351" cy="621" r="0.8" opacity="0.25"/><circle cx="285" cy="616" r="0.6" opacity="0.19"/><circle cx="63" cy="639" r="0.9" opacity="0.32"/><circle cx="211" cy="608" r="0.6" opacity="0.12"/><circle cx="249" cy="614" r="0.9" opacity="0.24"/><circle cx="429" cy="628" r="1.6" opacity="0.17"/><circle cx="111" cy="630" r="1.1" opacity="0.32"/><circle cx="290" cy="627" r="0.8" opacity="0.25"/><circle cx="196" cy="617" r="0.6" opacity="0.19"/><circle cx="18" cy="613" r="1.1" opacity="0.24"/><circle cx="220" cy="627" r="1.3" opacity="0.30"/><circle cx="157" cy="621" r="1.3" opacity="0.13"/><circle cx="347" cy="647" r="0.6" opacity="0.15"/><circle cx="388" cy="629" r="0.8" opacity="0.18"/><circle cx="319" cy="634" r="0.7" opacity="0.18"/><circle cx="187" cy="611" r="0.7" opacity="0.12"/><circle cx="408" cy="612" r="0.9" opacity="0.31"/><circle cx="442" cy="625" r="1.1" opacity="0.19"/><circle cx="287" cy="614" r="0.9" opacity="0.12"/><circle cx="318" cy="649" r="1.0" opacity="0.16"/><circle cx="351" cy="646" r="1.3" opacity="0.15"/><circle cx="293" cy="648" r="0.8" opacity="0.10"/><circle cx="212" cy="614" r="0.6" opacity="0.26"/><circle cx="377" cy="627" r="1.6" opacity="0.12"/><circle cx="269" cy="635" r="1.1" opacity="0.14"/><circle cx="387" cy="607" r="0.7" opacity="0.25"/><circle cx="271" cy="642" r="0.7" opacity="0.30"/><circle cx="227" cy="645" r="0.6" opacity="0.23"/><circle cx="114" cy="626" r="0.6" opacity="0.27"/><circle cx="181" cy="610" r="0.7" opacity="0.27"/><circle cx="226" cy="617" r="1.1" opacity="0.33"/><circle cx="272" cy="631" r="0.9" opacity="0.34"/><circle cx="470" cy="613" r="0.9" opacity="0.13"/><circle cx="284" cy="633" r="0.6" opacity="0.26"/><circle cx="131" cy="632" r="0.9" opacity="0.10"/><circle cx="9" cy="639" r="0.8" opacity="0.13"/><circle cx="440" cy="617" r="1.1" opacity="0.23"/><circle cx="331" cy="617" r="0.9" opacity="0.19"/><circle cx="401" cy="649" r="1.1" opacity="0.14"/><circle cx="207" cy="613" r="0.9" opacity="0.29"/><circle cx="26" cy="649" r="2.0" opacity="0.23"/><circle cx="478" cy="641" r="0.7" opacity="0.32"/><circle cx="465" cy="610" r="0.8" opacity="0.16"/><circle cx="371" cy="617" r="1.6" opacity="0.33"/><circle cx="446" cy="615" r="1.6" opacity="0.29"/><circle cx="112" cy="613" r="0.8" opacity="0.16"/><circle cx="364" cy="622" r="0.9" opacity="0.27"/><circle cx="206" cy="606" r="1.0" opacity="0.18"/><circle cx="109" cy="610" r="0.6" opacity="0.27"/><circle cx="352" cy="631" r="1.1" opacity="0.27"/><circle cx="330" cy="632" r="1.1" opacity="0.29"/><circle cx="221" cy="627" r="2.0" opacity="0.12"/><circle cx="346" cy="642" r="1.6" opacity="0.30"/><circle cx="282" cy="616" r="1.0" opacity="0.33"/><circle cx="257" cy="594" r="1.1" opacity="0.20"/><circle cx="305" cy="650" r="0.9" opacity="0.12"/><circle cx="288" cy="598" r="0.8" opacity="0.33"/><circle cx="262" cy="595" r="1.1" opacity="0.25"/><circle cx="270" cy="640" r="1.0" opacity="0.27"/><circle cx="360" cy="606" r="1.3" opacity="0.13"/><circle cx="293" cy="649" r="1.6" opacity="0.20"/><circle cx="370" cy="628" r="0.7" opacity="0.13"/><circle cx="396" cy="612" r="0.9" opacity="0.22"/><circle cx="290" cy="600" r="1.1" opacity="0.20"/><circle cx="389" cy="626" r="1.0" opacity="0.27"/><circle cx="262" cy="610" r="1.3" opacity="0.30"/><circle cx="353" cy="628" r="1.3" opacity="0.13"/><circle cx="382" cy="608" r="0.6" opacity="0.23"/><circle cx="325" cy="602" r="1.6" opacity="0.22"/><circle cx="260" cy="610" r="0.8" opacity="0.16"/><circle cx="345" cy="623" r="1.0" opacity="0.14"/><circle cx="265" cy="636" r="1.1" opacity="0.31"/><circle cx="306" cy="622" r="2.0" opacity="0.31"/><circle cx="289" cy="628" r="0.8" opacity="0.32"/><circle cx="272" cy="631" r="1.0" opacity="0.20"/><circle cx="346" cy="633" r="0.8" opacity="0.20"/><circle cx="329" cy="642" r="0.8" opacity="0.28"/><circle cx="306" cy="602" r="1.0" opacity="0.34"/><circle cx="281" cy="632" r="1.3" opacity="0.25"/><circle cx="397" cy="627" r="0.6" opacity="0.13"/><circle cx="316" cy="632" r="0.8" opacity="0.32"/><circle cx="358" cy="617" r="1.1" opacity="0.26"/><circle cx="260" cy="632" r="0.9" opacity="0.29"/><circle cx="357" cy="616" r="1.1" opacity="0.22"/><circle cx="261" cy="599" r="1.0" opacity="0.27"/><circle cx="390" cy="599" r="0.7" opacity="0.12"/><circle cx="289" cy="642" r="0.9" opacity="0.16"/><circle cx="364" cy="637" r="1.6" opacity="0.20"/><circle cx="324" cy="614" r="1.6" opacity="0.17"/><circle cx="287" cy="590" r="0.8" opacity="0.11"/><circle cx="377" cy="606" r="0.7" opacity="0.21"/><circle cx="333" cy="603" r="0.7" opacity="0.23"/><circle cx="379" cy="628" r="1.6" opacity="0.16"/><circle cx="430" cy="16" r="0.8" opacity="0.18"/><circle cx="323" cy="34" r="0.9" opacity="0.22"/><circle cx="402" cy="39" r="1.1" opacity="0.25"/><circle cx="348" cy="34" r="0.8" opacity="0.23"/><circle cx="468" cy="28" r="1.0" opacity="0.19"/><circle cx="471" cy="23" r="0.9" opacity="0.26"/><circle cx="335" cy="31" r="1.3" opacity="0.24"/><circle cx="448" cy="35" r="0.6" opacity="0.18"/><circle cx="278" cy="35" r="1.1" opacity="0.20"/><circle cx="304" cy="35" r="0.9" opacity="0.16"/><circle cx="319" cy="20" r="0.8" opacity="0.23"/><circle cx="398" cy="27" r="0.8" opacity="0.27"/><circle cx="365" cy="17" r="0.6" opacity="0.26"/><circle cx="312" cy="30" r="1.1" opacity="0.14"/><circle cx="430" cy="8" r="0.6" opacity="0.27"/><circle cx="420" cy="14" r="0.8" opacity="0.22"/><circle cx="338" cy="35" r="0.8" opacity="0.17"/><circle cx="320" cy="18" r="0.6" opacity="0.14"/><circle cx="274" cy="1" r="1.1" opacity="0.24"/><circle cx="348" cy="21" r="1.0" opacity="0.22"/><circle cx="331" cy="16" r="0.6" opacity="0.29"/><circle cx="313" cy="35" r="0.8" opacity="0.15"/><circle cx="427" cy="20" r="0.6" opacity="0.28"/><circle cx="283" cy="33" r="0.9" opacity="0.16"/><circle cx="424" cy="30" r="2.0" opacity="0.17"/><circle cx="337" cy="29" r="1.0" opacity="0.11"/><circle cx="443" cy="7" r="1.0" opacity="0.33"/><circle cx="451" cy="40" r="0.9" opacity="0.24"/><circle cx="415" cy="28" r="0.9" opacity="0.32"/><circle cx="379" cy="34" r="1.6" opacity="0.29"/><circle cx="364" cy="28" r="0.9" opacity="0.15"/><circle cx="444" cy="24" r="0.8" opacity="0.34"/><circle cx="424" cy="24" r="1.0" opacity="0.23"/><circle cx="300" cy="13" r="1.3" opacity="0.23"/><circle cx="257" cy="26" r="1.0" opacity="0.22"/><circle cx="353" cy="25" r="1.0" opacity="0.22"/><circle cx="454" cy="35" r="0.6" opacity="0.27"/><circle cx="412" cy="8" r="1.6" opacity="0.31"/><circle cx="444" cy="6" r="0.9" opacity="0.15"/><circle cx="325" cy="7" r="1.6" opacity="0.11"/></g>
</g>
<g clip-path="url(#rc)">
<rect x="475" y="0" width="485" height="650" fill="#272a39"/>
<g filter="url(#b12)">
<path d="M460 545C540 530 620 525 720 515V670H460Z" fill="#3b3f50"/>
<path d="M475 100H560V360H475Z" fill="#242735" opacity="0.8"/>
<path d="M560 -10H720V80H600Z" fill="#313545"/>
<ellipse cx="600" cy="42" rx="36" ry="24" fill="#393d4d" opacity="0.9"/>
</g>
<g filter="url(#b3)">
<path d="M475 0H560C580 20 590 45 592 70H475Z" fill="#2f3343"/>
<path d="M475 16C520 24 552 44 574 68" fill="none" stroke="#393d4e" stroke-width="9"/>
<path d="M475 34C510 42 535 54 552 70" fill="none" stroke="#232634" stroke-width="13"/>
<circle cx="624" cy="10" r="17.5" fill="#212431"/>
<path d="M706 0L812 40L826 66L706 40Z" fill="#343848"/>
<path d="M800 22L900 0L906 66H826Z" fill="#232634" opacity="0.8"/>
<path d="M900 0C916 22 932 44 946 68" fill="none" stroke="#34384a" stroke-width="13"/>
<path d="M640 90C668 150 690 230 700 330C704 420 690 500 655 545" fill="none" stroke="#323647" stroke-width="15" opacity="0.9"/>
<circle cx="695" cy="557" r="12" fill="#20232f"/>
<rect x="694" y="524" width="7" height="12" fill="#5e5a48"/>
<path d="M941 120C948 200 952 300 960 380" fill="none" stroke="#2d3142" stroke-width="10"/>
</g>
<g filter="url(#b1)">
<path d="M640 543C615 562 596 574 576 583C554 593 538 608 530 628C527 636 525 641 524 646Q600 625 655 540Z" fill="#2b2e3d"/>
<circle cx="527" cy="591" r="25" fill="#454959"/>
<path d="M529 569C543 572 552 583 551 596C550 607 543 615 533 616C522 611 515 600 516 589C517 579 522 572 529 569Z" fill="#383c4c"/>
<path d="M580 536C568 550 558 562 550 574" fill="none" stroke="#424656" stroke-width="7"/>
<path d="M636 540C612 560 592 572 574 580C552 590 537 605 528 625C524 635 522 645 521 655" fill="none" stroke="#232634" stroke-width="10"/>
<path d="M636 540C612 560 592 572 574 580C552 590 537 605 528 625C524 635 522 645 521 655" fill="none" stroke="#2f3348" stroke-width="4" stroke-dasharray="3.5 5.5"/>
<path d="M662 532Q600 615 468 646" fill="none" stroke="#474b5c" stroke-width="7"/>
</g>
</g>
</svg>
<div id="map">
<svg id="mapsvg" width="232" height="218" viewBox="44 38 232 218">
<defs><clipPath id="mc"><ellipse cx="160.35" cy="144.5" rx="115.45" ry="110.1"/></clipPath></defs>
<g clip-path="url(#mc)">
<rect x="44" y="38" width="232" height="218" fill="#fff"/>
<rect x="126.8" y="43.8" width="7.4" height="5.6" fill="none" stroke="#151515" stroke-width="0.6"/>
<line x1="126.8" y1="43.8" x2="134.2" y2="49.4" stroke="#151515" stroke-width="0.7" />
<line x1="126.8" y1="49.4" x2="134.2" y2="43.8" stroke="#151515" stroke-width="0.7" />
<line x1="137.8" y1="46.2" x2="150.8" y2="46.2" stroke="#333" stroke-width="0.6" stroke-dasharray="2 1.2"/>
<rect x="137.6" y="45.3" width="1.8" height="1.8" fill="#111"/>
<line x1="152.5" y1="45.0" x2="207.5" y2="45.0" stroke="#a8a8a8" stroke-width="1.3" />
<rect x="97.2" y="51.6" width="36.4" height="27.3" fill="none" stroke="#151515" stroke-width="0.6"/>
<line x1="133.6" y1="51.6" x2="133.6" y2="78.9" stroke="#111" stroke-width="1.0" />
<line x1="97.2" y1="78.9" x2="133.6" y2="78.9" stroke="#111" stroke-width="1.0" />
<rect x="102.8" y="51.6" width="12.9" height="5.2" fill="none" stroke="#151515" stroke-width="0.75"/>
<line x1="109.0" y1="51.6" x2="109.0" y2="56.8" stroke="#151515" stroke-width="0.7" />
<line x1="105.5" y1="63.0" x2="110.5" y2="63.0" stroke="#999" stroke-width="0.6"/>
<line x1="106.8" y1="64.6" x2="109.7" y2="64.6" stroke="#aaa" stroke-width="0.6"/>
<rect x="116.9" y="53.4" width="1.2" height="1.2" fill="#111"/>
<line x1="88.9" y1="60.5" x2="97.2" y2="60.5" stroke="#151515" stroke-width="0.7" />
<rect x="83.4" y="60.5" width="5.5" height="5.5" fill="none" stroke="#151515" stroke-width="0.75"/>
<rect x="83.4" y="67.0" width="5.5" height="4.5" fill="none" stroke="#151515" stroke-width="0.75"/>
<rect x="83.4" y="72.8" width="5.5" height="5.2" fill="none" stroke="#151515" stroke-width="0.75"/>
<line x1="133.6" y1="58.5" x2="139.0" y2="58.5" stroke="#777" stroke-width="0.4" />
<line x1="133.6" y1="74.0" x2="139.0" y2="74.0" stroke="#777" stroke-width="0.4" />
<line x1="88.9" y1="82.6" x2="196.0" y2="82.6" stroke="#111" stroke-width="1.0" />
<line x1="88.9" y1="92.8" x2="189.5" y2="92.8" stroke="#111" stroke-width="1.0" />
<rect x="90.8" y="83.9" width="5.5" height="8.5" fill="none" stroke="#111" stroke-width="0.7"/>
<rect x="112.9" y="82.6" width="6.1" height="7.4" fill="none" stroke="#111" stroke-width="0.9"/>
<line x1="119.0" y1="85.4" x2="145.2" y2="85.4" stroke="#111" stroke-width="0.8" />
<line x1="119.0" y1="89.4" x2="145.2" y2="89.4" stroke="#111" stroke-width="0.8" />
<rect x="145.2" y="83.5" width="6.5" height="9.3" fill="none" stroke="#151515" stroke-width="0.7"/>
<rect x="152.3" y="87.2" width="2.4" height="3.2" fill="#111"/>
<rect x="155.7" y="87.2" width="1.6" height="3.2" fill="#111"/>
<line x1="96.3" y1="84.6" x2="112.9" y2="84.6" stroke="#151515" stroke-width="0.5" />
<rect x="62.2" y="81.7" width="14.8" height="14.8" fill="none" stroke="#151515" stroke-width="0.75"/>
<line x1="62.2" y1="92.0" x2="77.0" y2="92.0" stroke="#151515" stroke-width="0.7" />
<line x1="66.5" y1="86.0" x2="71.5" y2="86.0" stroke="#999" stroke-width="0.6"/>
<line x1="67.8" y1="87.6" x2="70.7" y2="87.6" stroke="#aaa" stroke-width="0.6"/>
<rect x="60.3" y="101.0" width="6.5" height="7.5" fill="none" stroke="#151515" stroke-width="0.75"/>
<rect x="66.8" y="101.0" width="12.9" height="7.5" fill="none" stroke="#151515" stroke-width="0.75"/>
<rect x="84.3" y="101.0" width="14.7" height="7.5" fill="none" stroke="#151515" stroke-width="0.75"/>
<rect x="99.0" y="103.0" width="5.6" height="5.5" fill="none" stroke="#151515" stroke-width="0.75"/>
<rect x="104.6" y="93.7" width="21.2" height="15.3" fill="none" stroke="#151515" stroke-width="0.75"/>
<rect x="125.8" y="93.7" width="19.4" height="15.3" fill="none" stroke="#151515" stroke-width="0.75"/>
<line x1="125.8" y1="101.0" x2="145.2" y2="101.0" stroke="#151515" stroke-width="0.7" />
<line x1="138.0" y1="101.0" x2="138.0" y2="109.0" stroke="#151515" stroke-width="0.7" />
<line x1="62.0" y1="104.0" x2="65.0" y2="104.0" stroke="#999" stroke-width="0.6"/>
<line x1="62.8" y1="105.6" x2="64.5" y2="105.6" stroke="#aaa" stroke-width="0.6"/>
<line x1="70.0" y1="104.0" x2="76.0" y2="104.0" stroke="#999" stroke-width="0.6"/>
<line x1="71.5" y1="105.6" x2="75.0" y2="105.6" stroke="#aaa" stroke-width="0.6"/>
<line x1="87.5" y1="104.0" x2="94.5" y2="104.0" stroke="#999" stroke-width="0.6"/>
<line x1="89.2" y1="105.6" x2="93.3" y2="105.6" stroke="#aaa" stroke-width="0.6"/>
<line x1="112.0" y1="101.0" x2="118.0" y2="101.0" stroke="#999" stroke-width="0.6"/>
<line x1="113.5" y1="102.6" x2="117.0" y2="102.6" stroke="#aaa" stroke-width="0.6"/>
<line x1="128.5" y1="104.0" x2="133.5" y2="104.0" stroke="#999" stroke-width="0.6"/>
<line x1="129.8" y1="105.6" x2="132.7" y2="105.6" stroke="#aaa" stroke-width="0.6"/>
<line x1="139.5" y1="104.0" x2="143.5" y2="104.0" stroke="#999" stroke-width="0.6"/>
<line x1="140.5" y1="105.6" x2="142.8" y2="105.6" stroke="#aaa" stroke-width="0.6"/>
<line x1="79.7" y1="109.0" x2="84.3" y2="109.0" stroke="#151515" stroke-width="0.7" />
<rect x="83.4" y="114.5" width="62.2" height="25.9" fill="none" stroke="#151515" stroke-width="0.6"/>
<line x1="83.4" y1="131.2" x2="145.6" y2="131.2" stroke="#151515" stroke-width="0.7" />
<rect x="87.9" y="129.1" width="2.0" height="3.0" fill="#111"/>
<line x1="88.9" y1="131.2" x2="88.9" y2="140.4" stroke="#151515" stroke-width="0.7" />
<rect x="106.4" y="129.1" width="2.0" height="3.0" fill="#111"/>
<line x1="107.4" y1="131.2" x2="107.4" y2="140.4" stroke="#151515" stroke-width="0.7" />
<rect x="123.9" y="129.1" width="2.0" height="3.0" fill="#111"/>
<line x1="124.9" y1="131.2" x2="124.9" y2="140.4" stroke="#151515" stroke-width="0.7" />
<rect x="142.4" y="129.1" width="2.0" height="3.0" fill="#111"/>
<line x1="143.4" y1="131.2" x2="143.4" y2="140.4" stroke="#151515" stroke-width="0.7" />
<line x1="111.5" y1="124.0" x2="116.5" y2="124.0" stroke="#999" stroke-width="0.6"/>
<line x1="112.8" y1="125.6" x2="115.7" y2="125.6" stroke="#aaa" stroke-width="0.6"/>
<rect x="59.4" y="114.5" width="19.0" height="11.5" fill="none" stroke="#151515" stroke-width="0.75"/>
<line x1="59.4" y1="120.0" x2="78.4" y2="120.0" stroke="#151515" stroke-width="0.7" />
<rect x="59.4" y="129.7" width="19.0" height="11.1" fill="none" stroke="#151515" stroke-width="0.75"/>
<line x1="68.6" y1="129.7" x2="68.6" y2="140.8" stroke="#151515" stroke-width="0.7" />
<rect x="68.5" y="127.8" width="3.0" height="1.6" fill="#111"/>
<line x1="62.0" y1="117.0" x2="70.0" y2="117.0" stroke="#999" stroke-width="0.6"/>
<line x1="64.0" y1="118.6" x2="68.7" y2="118.6" stroke="#aaa" stroke-width="0.6"/>
<line x1="62.0" y1="122.5" x2="70.0" y2="122.5" stroke="#999" stroke-width="0.6"/>
<line x1="64.0" y1="124.1" x2="68.7" y2="124.1" stroke="#aaa" stroke-width="0.6"/>
<line x1="61.5" y1="135.0" x2="65.5" y2="135.0" stroke="#999" stroke-width="0.6"/>
<line x1="62.5" y1="136.6" x2="64.8" y2="136.6" stroke="#aaa" stroke-width="0.6"/>
<line x1="71.5" y1="135.0" x2="75.5" y2="135.0" stroke="#999" stroke-width="0.6"/>
<line x1="72.5" y1="136.6" x2="74.8" y2="136.6" stroke="#aaa" stroke-width="0.6"/>
<line x1="46.5" y1="120.0" x2="46.5" y2="200.0" stroke="#151515" stroke-width="0.7" />
<line x1="54.8" y1="122.0" x2="54.8" y2="175.0" stroke="#151515" stroke-width="0.7" />
<rect x="48.3" y="116.8" width="6.5" height="3.7" fill="#fff" stroke="#111" stroke-width="0.8"/>
<rect x="49.5" y="117.5" width="4.0" height="2.2" fill="#111"/>
<line x1="80.6" y1="112.0" x2="80.6" y2="206.0" stroke="#888" stroke-width="0.4" />
<rect x="150.8" y="114.0" width="9.2" height="10.2" fill="none" stroke="#151515" stroke-width="0.75"/>
<rect x="150.8" y="127.9" width="9.2" height="10.7" fill="none" stroke="#151515" stroke-width="0.75"/>
<line x1="153.0" y1="119.0" x2="157.0" y2="119.0" stroke="#999" stroke-width="0.6"/>
<line x1="154.0" y1="120.6" x2="156.3" y2="120.6" stroke="#aaa" stroke-width="0.6"/>
<line x1="153.0" y1="133.0" x2="157.0" y2="133.0" stroke="#999" stroke-width="0.6"/>
<line x1="154.0" y1="134.6" x2="156.3" y2="134.6" stroke="#aaa" stroke-width="0.6"/>
<rect x="156.5" y="127.8" width="2.0" height="1.6" fill="#111"/>
<rect x="62.2" y="145.2" width="16.2" height="17.3" fill="none" stroke="#151515" stroke-width="0.75"/>
<line x1="62.2" y1="150.0" x2="78.4" y2="150.0" stroke="#151515" stroke-width="0.7" />
<rect x="83.4" y="145.2" width="17.1" height="18.8" fill="none" stroke="#151515" stroke-width="0.75"/>
<rect x="104.6" y="145.2" width="17.6" height="18.8" fill="none" stroke="#151515" stroke-width="0.75"/>
<rect x="125.8" y="145.2" width="20.9" height="18.8" fill="none" stroke="#151515" stroke-width="0.75"/>
<line x1="125.8" y1="150.0" x2="146.7" y2="150.0" stroke="#151515" stroke-width="0.7" />
<line x1="67.0" y1="153.0" x2="73.0" y2="153.0" stroke="#999" stroke-width="0.6"/>
<line x1="68.5" y1="154.6" x2="72.0" y2="154.6" stroke="#aaa" stroke-width="0.6"/>
<line x1="87.0" y1="154.0" x2="93.0" y2="154.0" stroke="#999" stroke-width="0.6"/>
<line x1="88.5" y1="155.6" x2="92.0" y2="155.6" stroke="#aaa" stroke-width="0.6"/>
<line x1="109.0" y1="154.0" x2="115.0" y2="154.0" stroke="#999" stroke-width="0.6"/>
<line x1="110.5" y1="155.6" x2="114.0" y2="155.6" stroke="#aaa" stroke-width="0.6"/>
<line x1="133.5" y1="157.0" x2="138.5" y2="157.0" stroke="#999" stroke-width="0.6"/>
<line x1="134.8" y1="158.6" x2="137.7" y2="158.6" stroke="#aaa" stroke-width="0.6"/>
<line x1="56.5" y1="140.0" x2="56.5" y2="168.0" stroke="#666" stroke-width="0.4" />
<line x1="58.2" y1="140.0" x2="58.2" y2="168.0" stroke="#666" stroke-width="0.4" />
<rect x="49.0" y="164.0" width="5.0" height="3.0" fill="#111"/>
<rect x="49.0" y="171.5" width="5.0" height="3.0" fill="#111"/>
<rect x="62.2" y="167.7" width="16.2" height="9.3" fill="none" stroke="#151515" stroke-width="0.75"/>
<rect x="83.4" y="168.6" width="15.6" height="8.4" fill="none" stroke="#151515" stroke-width="0.75"/>
<rect x="102.8" y="168.6" width="11.0" height="11.1" fill="none" stroke="#151515" stroke-width="0.75"/>
<rect x="113.8" y="168.6" width="9.2" height="11.1" fill="none" stroke="#151515" stroke-width="0.75"/>
<rect x="126.4" y="168.6" width="19.8" height="11.1" fill="none" stroke="#151515" stroke-width="0.75"/>
<line x1="83.4" y1="172.0" x2="99.0" y2="172.0" stroke="#151515" stroke-width="0.7" />
<line x1="102.8" y1="173.5" x2="123.0" y2="173.5" stroke="#151515" stroke-width="0.7" />
<line x1="126.4" y1="174.5" x2="146.2" y2="174.5" stroke="#151515" stroke-width="0.7" />
<rect x="104" y="174.6" width="8" height="4.2" fill="#555"/>
<rect x="115.2" y="175.4" width="6.5" height="3.4" fill="#888"/>
<line x1="66.0" y1="172.0" x2="74.0" y2="172.0" stroke="#999" stroke-width="0.6"/>
<line x1="68.0" y1="173.6" x2="72.7" y2="173.6" stroke="#aaa" stroke-width="0.6"/>
<line x1="131.0" y1="177.0" x2="141.0" y2="177.0" stroke="#999" stroke-width="0.6"/>
<line x1="133.5" y1="178.6" x2="139.3" y2="178.6" stroke="#aaa" stroke-width="0.6"/>
<line x1="54.8" y1="184.3" x2="250.0" y2="184.6" stroke="#222" stroke-width="0.8" />
<rect x="68.5" y="184.2" width="2.0" height="2.0" fill="#111"/>
<rect x="104.0" y="184.2" width="2.0" height="2.0" fill="#111"/>
<rect x="123.0" y="184.2" width="2.0" height="2.0" fill="#111"/>
<rect x="142.4" y="184.2" width="2.0" height="2.0" fill="#111"/>
<rect x="177.5" y="184.2" width="2.0" height="2.0" fill="#111"/>
<rect x="193.2" y="184.2" width="2.0" height="2.0" fill="#111"/>
<rect x="213.5" y="184.2" width="2.0" height="2.0" fill="#111"/>
<rect x="230.0" y="184.2" width="2.0" height="2.0" fill="#111"/>
<rect x="240.0" y="184.2" width="2.0" height="2.0" fill="#111"/>
<rect x="83.8" y="185.8" width="14.9" height="17.3" fill="none" stroke="#151515" stroke-width="0.75"/>
<rect x="102.8" y="185.8" width="24.3" height="17.3" fill="none" stroke="#151515" stroke-width="0.75"/>
<rect x="131.4" y="185.8" width="9.8" height="17.3" fill="none" stroke="#151515" stroke-width="0.75"/>
<rect x="141.2" y="185.8" width="4.4" height="12.2" fill="none" stroke="#151515" stroke-width="0.75"/>
<rect x="150.4" y="185.8" width="9.6" height="17.2" fill="none" stroke="#151515" stroke-width="0.75"/>
<line x1="88.0" y1="192.0" x2="94.0" y2="192.0" stroke="#999" stroke-width="0.6"/>
<line x1="89.5" y1="193.6" x2="93.0" y2="193.6" stroke="#aaa" stroke-width="0.6"/>
<line x1="110.0" y1="192.0" x2="116.0" y2="192.0" stroke="#999" stroke-width="0.6"/>
<line x1="111.5" y1="193.6" x2="115.0" y2="193.6" stroke="#aaa" stroke-width="0.6"/>
<line x1="133.5" y1="192.0" x2="137.5" y2="192.0" stroke="#999" stroke-width="0.6"/>
<line x1="134.5" y1="193.6" x2="136.8" y2="193.6" stroke="#aaa" stroke-width="0.6"/>
<line x1="88.0" y1="184.6" x2="98.0" y2="190.5" stroke="#777" stroke-width="0.4" />
<rect x="60.5" y="186.5" width="3.6" height="3.6" fill="none" stroke="#151515" stroke-width="0.45"/>
<rect x="63.5" y="192.0" width="3.6" height="3.6" fill="none" stroke="#151515" stroke-width="0.45"/>
<rect x="68.0" y="190.0" width="3.6" height="3.6" fill="none" stroke="#151515" stroke-width="0.45"/>
<rect x="70.5" y="196.5" width="3.6" height="3.6" fill="none" stroke="#151515" stroke-width="0.45"/>
<rect x="74.0" y="199.5" width="3.6" height="3.6" fill="none" stroke="#151515" stroke-width="0.45"/>
<rect x="66.5" y="203.0" width="3.6" height="3.6" fill="none" stroke="#151515" stroke-width="0.45"/>
<rect x="62.0" y="197.0" width="3.6" height="3.6" fill="none" stroke="#151515" stroke-width="0.45"/>
<line x1="59.0" y1="184.3" x2="59.0" y2="215.0" stroke="#777" stroke-width="0.4" />
<line x1="78.6" y1="186.0" x2="78.6" y2="240.0" stroke="#777" stroke-width="0.4" />
<line x1="83.0" y1="207.4" x2="132.3" y2="207.4" stroke="#151515" stroke-width="0.6" />
<line x1="83.0" y1="207.4" x2="83.0" y2="229.0" stroke="#151515" stroke-width="0.6" />
<rect x="83.4" y="207.9" width="10.1" height="10.6" fill="none" stroke="#151515" stroke-width="0.75"/>
<line x1="86.5" y1="213.0" x2="90.5" y2="213.0" stroke="#999" stroke-width="0.6"/>
<line x1="87.5" y1="214.6" x2="89.8" y2="214.6" stroke="#aaa" stroke-width="0.6"/>
<ellipse cx="113.3" cy="223.4" rx="14.6" ry="14.6" fill="none" stroke="#333" stroke-width="0.5"/>
<line x1="109.5" y1="222.0" x2="114.5" y2="222.0" stroke="#999" stroke-width="0.6"/>
<line x1="110.8" y1="223.6" x2="113.7" y2="223.6" stroke="#aaa" stroke-width="0.6"/>
<line x1="109.5" y1="225.5" x2="114.5" y2="225.5" stroke="#999" stroke-width="0.6"/>
<line x1="110.8" y1="227.1" x2="113.7" y2="227.1" stroke="#aaa" stroke-width="0.6"/>
<rect x="86.5" y="227.0" width="4.0" height="4.0" fill="none" stroke="#151515" stroke-width="0.45"/>
<rect x="90.5" y="230.5" width="4.0" height="4.0" fill="none" stroke="#151515" stroke-width="0.45"/>
<rect x="128.6" y="229.0" width="4.0" height="4.0" fill="none" stroke="#151515" stroke-width="0.45"/>
<rect x="133.5" y="225.0" width="4.0" height="4.0" fill="none" stroke="#151515" stroke-width="0.45"/>
<rect x="137.5" y="230.0" width="4.0" height="4.0" fill="none" stroke="#151515" stroke-width="0.45"/>
<rect x="134.0" y="212.5" width="4.0" height="4.0" fill="none" stroke="#151515" stroke-width="0.45"/>
<rect x="137.8" y="216.0" width="4.0" height="4.0" fill="none" stroke="#151515" stroke-width="0.45"/>
<rect x="150.6" y="211.0" width="4.0" height="4.0" fill="none" stroke="#151515" stroke-width="0.45"/>
<rect x="154.5" y="214.5" width="4.0" height="4.0" fill="none" stroke="#151515" stroke-width="0.45"/>
<rect x="151.0" y="219.0" width="4.0" height="4.0" fill="none" stroke="#151515" stroke-width="0.45"/>
<rect x="156.0" y="224.0" width="4.0" height="4.0" fill="none" stroke="#151515" stroke-width="0.45"/>
<rect x="151.0" y="228.0" width="4.0" height="4.0" fill="none" stroke="#151515" stroke-width="0.45"/>
<rect x="155.5" y="232.0" width="4.0" height="4.0" fill="none" stroke="#151515" stroke-width="0.45"/>
<rect x="153.0" y="237.0" width="4.0" height="4.0" fill="none" stroke="#151515" stroke-width="0.45"/>
<line x1="101.0" y1="245.2" x2="176.0" y2="245.2" stroke="#222" stroke-width="0.7" />
<line x1="123.0" y1="240.0" x2="123.0" y2="252.0" stroke="#151515" stroke-width="0.4" />
<line x1="150.5" y1="203.0" x2="150.5" y2="255.0" stroke="#777" stroke-width="0.4" />
<line x1="97.0" y1="208.0" x2="100.0" y2="209.8" stroke="#151515" stroke-width="0.4" />
<rect x="111.0" y="207.7" width="3.0" height="1.2" fill="#111"/>
<rect x="97.2" y="208.0" width="2.6" height="1.2" fill="#111"/>
<line x1="192.9" y1="77.5" x2="192.9" y2="82.6" stroke="#151515" stroke-width="0.4" />
<path d="M191.2 78.2h3.4l-1.7 2.6z" fill="#111"/>
<path d="M122.6 78.2h3.4l-1.7 2.6z" fill="#111" transform="translate(24.4,0)"/>
<line x1="172.0" y1="82.6" x2="172.0" y2="92.8" stroke="#151515" stroke-width="0.6" />
<line x1="160.0" y1="82.6" x2="160.0" y2="92.8" stroke="#151515" stroke-width="0.6" />
<line x1="180.0" y1="82.6" x2="180.0" y2="92.8" stroke="#151515" stroke-width="0.6" />
<rect x="164" y="86.6" width="3.4" height="4.4" fill="#fff" stroke="#111" stroke-width="0.9"/>
<rect x="177" y="86.6" width="3.4" height="4.4" fill="#fff" stroke="#111" stroke-width="0.9"/>
<rect x="185.8" y="88.4" width="3.6" height="3.6" fill="#111"/>
<rect x="189.5" y="84.5" width="6.5" height="24.0" fill="none" stroke="#111" stroke-width="0.8"/>
<rect x="196.7" y="86.9" width="4.2" height="4.6" fill="#111"/>
<rect x="197.0" y="96.0" width="3.5" height="11.0" fill="none" stroke="#151515" stroke-width="0.6"/>
<rect x="160.0" y="93.7" width="29.5" height="14.8" fill="none" stroke="#151515" stroke-width="0.5"/>
<line x1="166.5" y1="102.0" x2="175.5" y2="102.0" stroke="#999" stroke-width="0.6"/>
<line x1="168.8" y1="103.6" x2="174.0" y2="103.6" stroke="#aaa" stroke-width="0.6"/>
<rect x="196.0" y="84.5" width="51.7" height="24.0" fill="none" stroke="#111" stroke-width="1.0"/>
<line x1="201.5" y1="84.5" x2="201.5" y2="108.5" stroke="#151515" stroke-width="0.6" />
<line x1="210.8" y1="84.5" x2="210.8" y2="108.5" stroke="#111" stroke-width="0.8" />
<rect x="227.4" y="93.6" width="4" height="5" fill="#fff" stroke="#111" stroke-width="1.1"/>
<rect x="243.7" y="86.4" width="3.4" height="4.4" fill="#111"/>
<rect x="239.4" y="83.6" width="1.2" height="1.2" fill="#111"/>
<rect x="242.4" y="83.6" width="1.2" height="1.2" fill="#111"/>
<rect x="212.6" y="108.5" width="34.0" height="2.7" fill="none" stroke="#555" stroke-width="0.4"/>
<line x1="248.6" y1="112.5" x2="261.5" y2="112.5" stroke="#333" stroke-width="0.6" stroke-dasharray="1.6 1.2"/>
<path d="M247.6 110.8l3 1.7-3 1.7zM253.6 110.8l-3 1.7 3 1.7z" fill="#111"/>
<circle cx="261.3" cy="112.5" r="0.9" fill="none" stroke="#222" stroke-width="0.4"/>
<rect x="160.0" y="114.0" width="9.2" height="10.2" fill="none" stroke="#151515" stroke-width="0.75"/>
<rect x="172.6" y="114.0" width="17.9" height="11.1" fill="none" stroke="#151515" stroke-width="0.75"/>
<line x1="177.5" y1="119.0" x2="184.5" y2="119.0" stroke="#999" stroke-width="0.6"/>
<line x1="179.2" y1="120.6" x2="183.3" y2="120.6" stroke="#aaa" stroke-width="0.6"/>
<line x1="162.5" y1="119.0" x2="166.5" y2="119.0" stroke="#999" stroke-width="0.6"/>
<line x1="163.5" y1="120.6" x2="165.8" y2="120.6" stroke="#aaa" stroke-width="0.6"/>
<rect x="160.7" y="110.5" width="1.0" height="1.0" fill="#111"/>
<rect x="172.6" y="127.9" width="17.9" height="12.9" fill="none" stroke="#151515" stroke-width="0.75"/>
<rect x="176.7" y="128.6" width="1.6" height="3.2" fill="#111"/>
<rect x="185.2" y="128.6" width="1.6" height="3.2" fill="#111"/>
<line x1="177.5" y1="134.0" x2="184.5" y2="134.0" stroke="#999" stroke-width="0.6"/>
<line x1="179.2" y1="135.6" x2="183.3" y2="135.6" stroke="#aaa" stroke-width="0.6"/>
<line x1="172.6" y1="137.0" x2="190.5" y2="137.0" stroke="#151515" stroke-width="0.7" />
<rect x="160.0" y="127.9" width="9.2" height="10.9" fill="none" stroke="#151515" stroke-width="0.75"/>
<rect x="195.0" y="115.8" width="40.7" height="49.2" fill="none" stroke="#151515" stroke-width="0.5"/>
<line x1="195.0" y1="131.5" x2="235.7" y2="131.5" stroke="#151515" stroke-width="0.5" />
<line x1="195.0" y1="140.8" x2="235.7" y2="140.8" stroke="#151515" stroke-width="0.7" />
<line x1="195.0" y1="145.6" x2="235.7" y2="145.6" stroke="#151515" stroke-width="0.7" />
<rect x="196.5" y="129.3" width="2.2" height="3.4" fill="#111"/>
<line x1="197.6" y1="115.8" x2="197.6" y2="131.5" stroke="#151515" stroke-width="0.4" />
<rect x="211.9" y="129.3" width="2.2" height="3.4" fill="#111"/>
<line x1="213.0" y1="115.8" x2="213.0" y2="131.5" stroke="#151515" stroke-width="0.4" />
<rect x="229.7" y="129.3" width="2.2" height="3.4" fill="#111"/>
<line x1="230.8" y1="115.8" x2="230.8" y2="131.5" stroke="#151515" stroke-width="0.4" />
<line x1="232.6" y1="115.8" x2="232.6" y2="165.0" stroke="#151515" stroke-width="0.4" />
<line x1="207.0" y1="137.0" x2="217.0" y2="137.0" stroke="#999" stroke-width="0.6"/>
<line x1="209.5" y1="138.6" x2="215.3" y2="138.6" stroke="#aaa" stroke-width="0.6"/>
<line x1="236.6" y1="116.0" x2="236.6" y2="160.0" stroke="#151515" stroke-width="0.5" />
<line x1="240.0" y1="118.0" x2="240.0" y2="160.0" stroke="#151515" stroke-width="0.4" />
<line x1="244.0" y1="116.0" x2="244.0" y2="160.0" stroke="#151515" stroke-width="0.4" />
<line x1="247.7" y1="108.5" x2="247.7" y2="200.0" stroke="#222" stroke-width="0.6" />
<rect x="244.7" y="112.8" width="2.6" height="3.4" fill="#111"/>
<line x1="238.0" y1="130.0" x2="240.0" y2="133.0" stroke="#151515" stroke-width="0.4" />
<line x1="238.0" y1="136.0" x2="240.0" y2="139.0" stroke="#151515" stroke-width="0.4" />
<line x1="272.6" y1="122.3" x2="272.6" y2="152.0" stroke="#151515" stroke-width="0.5" />
<line x1="271.0" y1="170.0" x2="276.0" y2="170.0" stroke="#151515" stroke-width="0.4" />
<rect x="179.4" y="144.6" width="11.1" height="8.3" fill="none" stroke="#151515" stroke-width="0.75"/>
<rect x="179.4" y="156.6" width="11.1" height="9.2" fill="none" stroke="#151515" stroke-width="0.75"/>
<line x1="182.5" y1="148.0" x2="187.5" y2="148.0" stroke="#999" stroke-width="0.6"/>
<line x1="183.8" y1="149.6" x2="186.7" y2="149.6" stroke="#aaa" stroke-width="0.6"/>
<line x1="182.5" y1="160.5" x2="187.5" y2="160.5" stroke="#999" stroke-width="0.6"/>
<line x1="183.8" y1="162.1" x2="186.7" y2="162.1" stroke="#aaa" stroke-width="0.6"/>
<rect x="243.7" y="156.6" width="3.0" height="2.0" fill="#111"/>
<line x1="248.6" y1="162.2" x2="261.5" y2="162.2" stroke="#333" stroke-width="0.6" stroke-dasharray="1.6 1.2"/>
<path d="M247.6 160.5l3 1.7-3 1.7zM253.6 160.5l-3 1.7 3 1.7z" fill="#111"/>
<circle cx="261.3" cy="162.2" r="0.9" fill="none" stroke="#222" stroke-width="0.4"/>
<rect x="237.6" y="168" width="4.8" height="4.9" fill="#2a5be0"/>
<rect x="239" y="169.2" width="1.8" height="1.8" fill="#9bb6f5"/>
<path d="M243.4 169.2h2v-1.5l2.6-1v8.6l-2.6-1v-1.6h-2z" fill="#111"/>
<rect x="195.0" y="169.5" width="24.0" height="9.6" fill="none" stroke="#151515" stroke-width="0.75"/>
<rect x="222.4" y="169.2" width="10.6" height="9.9" fill="none" stroke="#151515" stroke-width="0.75"/>
<line x1="204.5" y1="174.0" x2="209.5" y2="174.0" stroke="#999" stroke-width="0.6"/>
<line x1="205.8" y1="175.6" x2="208.7" y2="175.6" stroke="#aaa" stroke-width="0.6"/>
<line x1="225.5" y1="173.5" x2="229.5" y2="173.5" stroke="#999" stroke-width="0.6"/>
<line x1="226.5" y1="175.1" x2="228.8" y2="175.1" stroke="#aaa" stroke-width="0.6"/>
<rect x="177.6" y="174.7" width="6.2" height="4.4" fill="#333"/>
<rect x="184.0" y="170.5" width="6.5" height="7.8" fill="none" stroke="#151515" stroke-width="0.75"/>
<line x1="184.0" y1="177.0" x2="194.2" y2="188.0" stroke="#555" stroke-width="0.4" />
<rect x="242.8" y="178.9" width="4.5" height="1.2" fill="#111"/>
<rect x="160.0" y="185.8" width="12.6" height="18.0" fill="none" stroke="#151515" stroke-width="0.75"/>
<rect x="177.5" y="186.2" width="10.2" height="18.0" fill="none" stroke="#151515" stroke-width="0.75"/>
<rect x="191.4" y="186.2" width="17.5" height="18.0" fill="none" stroke="#151515" stroke-width="0.75"/>
<rect x="212.6" y="186.2" width="20.3" height="18.0" fill="none" stroke="#151515" stroke-width="0.75"/>
<rect x="237.5" y="190.8" width="11.1" height="12.9" fill="none" stroke="#151515" stroke-width="0.75"/>
<line x1="163.5" y1="193.0" x2="168.5" y2="193.0" stroke="#999" stroke-width="0.6"/>
<line x1="164.8" y1="194.6" x2="167.7" y2="194.6" stroke="#aaa" stroke-width="0.6"/>
<line x1="180.5" y1="193.0" x2="184.5" y2="193.0" stroke="#999" stroke-width="0.6"/>
<line x1="181.5" y1="194.6" x2="183.8" y2="194.6" stroke="#aaa" stroke-width="0.6"/>
<line x1="197.0" y1="195.0" x2="202.0" y2="195.0" stroke="#999" stroke-width="0.6"/>
<line x1="198.2" y1="196.6" x2="201.2" y2="196.6" stroke="#aaa" stroke-width="0.6"/>
<line x1="219.0" y1="194.0" x2="224.0" y2="194.0" stroke="#999" stroke-width="0.6"/>
<line x1="220.2" y1="195.6" x2="223.2" y2="195.6" stroke="#aaa" stroke-width="0.6"/>
<line x1="240.0" y1="196.0" x2="245.0" y2="196.0" stroke="#999" stroke-width="0.6"/>
<line x1="241.2" y1="197.6" x2="244.2" y2="197.6" stroke="#aaa" stroke-width="0.6"/>
<rect x="239.0" y="187.1" width="6.0" height="3.0" fill="#111"/>
<rect x="159.0" y="185.8" width="2.0" height="2.0" fill="#111"/>
<rect x="244.5" y="204.6" width="4.1" height="3.7" fill="none" stroke="#151515" stroke-width="0.5"/>
<line x1="248.0" y1="192.0" x2="252.0" y2="197.0" stroke="#666" stroke-width="0.4" />
<rect x="250.3" y="208.3" width="2.4" height="2.4" fill="#111"/>
<rect x="177.5" y="210.2" width="12.0" height="7.3" fill="none" stroke="#151515" stroke-width="0.75"/>
<rect x="190.5" y="210.2" width="6.5" height="6.4" fill="none" stroke="#151515" stroke-width="0.75"/>
<rect x="197.0" y="211.0" width="11.4" height="5.6" fill="none" stroke="#151515" stroke-width="0.75"/>
<rect x="212.6" y="211.0" width="8.4" height="5.6" fill="none" stroke="#151515" stroke-width="0.75"/>
<rect x="221.0" y="210.2" width="12.0" height="6.4" fill="none" stroke="#151515" stroke-width="0.75"/>
<line x1="180.5" y1="213.5" x2="185.5" y2="213.5" stroke="#999" stroke-width="0.6"/>
<line x1="181.8" y1="215.1" x2="184.7" y2="215.1" stroke="#aaa" stroke-width="0.6"/>
<line x1="200.0" y1="213.5" x2="205.0" y2="213.5" stroke="#999" stroke-width="0.6"/>
<line x1="201.2" y1="215.1" x2="204.2" y2="215.1" stroke="#aaa" stroke-width="0.6"/>
<line x1="224.5" y1="213.5" x2="229.5" y2="213.5" stroke="#999" stroke-width="0.6"/>
<line x1="225.8" y1="215.1" x2="228.7" y2="215.1" stroke="#aaa" stroke-width="0.6"/>
<path d="M246.8 217.5H186.8V247.4M220.6 217.5V223.5H227.4V233" fill="none" stroke="#111" stroke-width="1.0"/>
<rect x="208.1" y="217.2" width="3.4" height="2.4" fill="#111"/>
<rect x="161.5" y="208.5" width="3.8" height="3.8" fill="none" stroke="#151515" stroke-width="0.45"/>
<rect x="165.5" y="212.0" width="3.8" height="3.8" fill="none" stroke="#151515" stroke-width="0.45"/>
<rect x="162.0" y="216.0" width="3.8" height="3.8" fill="none" stroke="#151515" stroke-width="0.45"/>
<rect x="167.0" y="220.0" width="3.8" height="3.8" fill="none" stroke="#151515" stroke-width="0.45"/>
<rect x="163.5" y="224.0" width="3.8" height="3.8" fill="none" stroke="#151515" stroke-width="0.45"/>
<rect x="166.5" y="228.5" width="3.8" height="3.8" fill="none" stroke="#151515" stroke-width="0.45"/>
<rect x="160.5" y="229.0" width="3.8" height="3.8" fill="none" stroke="#151515" stroke-width="0.45"/>
<rect x="163.0" y="234.0" width="3.8" height="3.8" fill="none" stroke="#151515" stroke-width="0.45"/>
<rect x="167.6" y="206.5" width="3.8" height="3.8" fill="none" stroke="#151515" stroke-width="0.45"/>
<rect x="177.5" y="217.5" width="6.5" height="5.2" fill="none" stroke="#151515" stroke-width="0.45"/>
<rect x="177.5" y="223.6" width="6.5" height="5.2" fill="none" stroke="#151515" stroke-width="0.45"/>
<rect x="177.5" y="229.7" width="6.5" height="5.2" fill="none" stroke="#151515" stroke-width="0.45"/>
<rect x="177.5" y="235.8" width="6.5" height="5.2" fill="none" stroke="#151515" stroke-width="0.45"/>
<rect x="177.5" y="241.6" width="6.5" height="5.2" fill="none" stroke="#151515" stroke-width="0.45"/>
<line x1="174.5" y1="207.0" x2="174.5" y2="250.0" stroke="#777" stroke-width="0.4" />
<rect x="174.1" y="219.0" width="1.0" height="2.0" fill="#111"/>
<rect x="160.0" y="243.4" width="6.0" height="7.4" fill="none" stroke="#151515" stroke-width="0.75"/>
<rect x="168.0" y="243.4" width="8.6" height="7.4" fill="none" stroke="#151515" stroke-width="0.75"/>
<line x1="236.0" y1="226.5" x2="240.0" y2="226.5" stroke="#151515" stroke-width="0.4" />
<rect x="235.6" y="226.0" width="1.6" height="1.6" fill="#111"/>
<path d="M263.4 175l7.4 0-3.4 9.3z" fill="none" stroke="#555" stroke-width="0.5"/>
<path d="M78.2 66.1H82.8V98.4H87.8L80.5 113.2L73.2 98.4H78.2Z" fill="#f50a0a"/>
<path d="M53.8 177.8H88.4V173.2L102.8 179.9L88.4 186.5V182.1H53.8Z" fill="#f50a0a"/>
<path d="M259.7 179.1H225.5V174.7L211.7 181.5L225.5 188.4V183.9H259.7Z" fill="#f50a0a"/>
<path d="M143 256V206.8H137.8L145.2 193.2L152.6 206.8H148V256Z" fill="#f50a0a"/>
<rect x="150.3" y="141.2" width="26.3" height="27.3" fill="#fff" stroke="#4472c4" stroke-width="4.6"/>
<path d="M163.7 146.8C162.5 148.7 160.2 149.7 158.1 150.9C155.3 152.5 154 154.8 154.2 157.1C154.5 160 157.1 162.1 160.4 162.1C161.9 162.1 163.1 161.6 164 160.9C165.6 161.7 167.6 161.7 169.2 160.9C171.5 159.7 172.5 157.1 171.9 154.7C171.1 151.5 168.1 150.5 166.1 149.5C165.1 148.9 164.3 147.9 163.7 146.8Z" fill="#0a70ac"/>
<path d="M171.9 154.7C172.5 157.1 171.5 159.7 169.2 160.9C167.6 161.7 165.6 161.7 164 160.9C165.2 159.8 165.4 158 166.3 156.4C167.4 154.4 169.9 153.5 171.9 154.7Z" fill="#14a9da"/>
<path d="M161.6 162C162.6 161.8 163.4 161.4 164 160.9C165 161.4 166.3 161.6 167.6 161.4C166.8 162.7 165.4 163.5 163.9 163.4C163 163.4 162.2 162.8 161.6 162Z" fill="#35bde8"/>
</g>
</svg>
</div>
<div class="t" id="maplabel" style="left:82px;top:261px;font-size:20px;color:#fff;text-indent:0.21px;transform:translateZ(0) scaleX(1.0182)">Hall 15, booth f52</div>

<div class="abs" id="banner"></div>
<div class="abs" id="bannertri"></div>
<div class="abs" id="rpanel"></div>
<div class="t" id="title" style="left:433px;top:81px;font-size:28px;color:#000;text-indent:0.87px;transform:translateZ(0) scaleX(1.0463);-webkit-text-stroke:1.18px #000">INTELLIGENT</div>
<div class="t" id="title2" style="left:630px;top:81px;font-size:28px;color:#000;text-indent:1.00px;transform:translateZ(0) scaleX(1.0004);-webkit-text-stroke:1.18px #000">INDUSTRY</div>
<div class="t" id="title3" style="left:785px;top:81px;font-size:28px;color:#000;text-indent:0.26px;transform:translateZ(0) scaleX(0.9945);-webkit-text-stroke:1.18px #000">STAGE</div>
<div class="t" id="use1" style="left:722px;top:129px;font-size:18.67px;color:#353535;text-indent:0.77px;transform:translateZ(0) scaleX(0.9709)">Use cases &amp;</div>
<div class="t" id="use2" style="left:722px;top:153px;font-size:18.67px;color:#353535;text-indent:0.79px;transform:translateZ(0) scaleX(1.0792)">live presentations</div>
<div class="t" id="use3" style="left:723px;top:177px;font-size:18.67px;color:#353535;text-indent:0.04px;transform:translateZ(0) scaleX(1.0419)">March 31 – April 2</div>
<div class="abs" id="rbox"></div>
<div class="t b" id="topics" style="left:738px;top:275px;font-size:13.33px;color:#111;text-indent:0.07px;transform:translateZ(0) scaleX(0.9503)">Topics</div>
<div class="t" id="r1" style="left:751px;top:308px;font-size:12.9px;color:#1e1e1e;text-indent:0.38px;transform:translateZ(0) scaleX(1.0838)">Digital Continuity</div>
<div class="t" id="r2" style="left:751px;top:339px;font-size:12.9px;color:#1e1e1e;text-indent:0.07px;transform:translateZ(0) scaleX(1.1405)">Intelligent</div>
<div class="t" id="r3" style="left:751px;top:355px;font-size:12.9px;color:#1e1e1e;text-indent:0.38px;transform:translateZ(0) scaleX(1.0846)">Manufacturing</div>
<div class="t" id="r4" style="left:751px;top:386px;font-size:12.9px;color:#1e1e1e;text-indent:0.71px;transform:translateZ(0) scaleX(1.0281)">Climate Tech &amp;</div>
<div class="t" id="r5" style="left:751px;top:402px;font-size:12.9px;color:#1e1e1e;text-indent:0.67px;transform:translateZ(0) scaleX(1.0560)">Sustainability</div>
<div class="t" id="r6" style="left:751px;top:433px;font-size:12.9px;color:#1e1e1e;text-indent:0.15px;transform:translateZ(0) scaleX(1.0728)">Intelligent Products &amp;</div>
<div class="t" id="r7" style="left:751px;top:449px;font-size:12.9px;color:#1e1e1e;text-indent:0.77px;transform:translateZ(0) scaleX(0.9886)">Services</div>
<div class="t" id="r8" style="left:752px;top:481px;font-size:12.9px;color:#1e1e1e;text-indent:0.50px;transform:translateZ(0) scaleX(1.0008)">AI / Gen AI</div>
<div class="t" id="r9" style="left:751px;top:528px;font-size:12.9px;color:#1e1e1e;text-indent:0.18px;transform:translateZ(0) scaleX(1.0507)">Intelligent Supply Chain</div>
<div class="t bl" style="left:737px;top:307px;text-indent:0.15px">•</div>
<div class="t bl" style="left:737px;top:339px;text-indent:0.15px">•</div>
<div class="t bl" style="left:737px;top:386px;text-indent:0.15px">•</div>
<div class="t bl" style="left:737px;top:433px;text-indent:0.15px">•</div>
<div class="t bl" style="left:737px;top:481px;text-indent:0.15px">•</div>
<div class="t bl" style="left:737px;top:528px;text-indent:0.15px">•</div>

<div class="box" id="stage"></div>
<div class="box" id="vip"></div>
<div class="box" id="demo"></div>
<div class="t" id="tstage" style="left:395px;top:274px;font-size:18.67px;color:#fff;text-indent:1.11px;transform:translateZ(0) scaleX(0.8533)">STAGE</div>
<div class="t" id="tvip1" style="left:550px;top:254px;font-size:18.67px;color:#fff;text-indent:0.32px;transform:translateZ(0) scaleX(0.8800)">VIP</div>
<div class="t" id="tvip2" style="left:549px;top:275px;font-size:18.67px;color:#fff;text-indent:0.79px;transform:translateZ(0) scaleX(0.8732)">LOUNGE</div>
<div class="t" id="tvip3" style="left:549px;top:295px;font-size:13.2px;color:#fff;text-indent:0.86px;transform:translateZ(0) scaleX(1.0542)">(1<sup>st</sup> floor)</div>
<div class="t" id="tdemo" style="left:458px;top:443px;font-size:18.67px;color:#fff;text-indent:0.82px;transform:translateZ(0) scaleX(0.9047)">DEMO</div>
<div class="t" id="tdemo2" style="left:515px;top:443px;font-size:18.67px;color:#fff;text-indent:0.12px;transform:translateZ(0) scaleX(0.8473)">AREA</div>

<div class="abs" id="lpanel"></div>
<div class="abs" id="ltri"></div>
<div class="abs" id="lbox"></div>
<div class="t" id="ltitle" style="left:78px;top:330px;font-size:25.4px;color:#000;text-indent:0.33px;transform:translateZ(0) scaleX(1.0102);-webkit-text-stroke:1.07px #000">DEMO</div>
<div class="t" id="ltitle2" style="left:164px;top:330px;font-size:25.4px;color:#000;text-indent:0.50px;transform:translateZ(0) scaleX(0.9537);-webkit-text-stroke:1.07px #000">AREA</div>
<div class="t b" id="lhub" style="left:74px;top:387px;font-size:13.33px;color:#111;text-indent:0.96px;transform:translateZ(0) scaleX(1.0194)">Intelligent Industry Hub</div>
<div class="t" id="l1" style="left:89px;top:416px;font-size:12.9px;color:#1e1e1e;text-indent:0.66px;transform:translateZ(0) scaleX(1.0846)">Manufacturing</div>
<div class="t" id="l2" style="left:89px;top:448px;font-size:12.9px;color:#1e1e1e;text-indent:0.68px;transform:translateZ(0) scaleX(1.0720)">Hybrid AI</div>
<div class="t" id="l3" style="left:90px;top:479px;font-size:12.9px;color:#1e1e1e;text-indent:0.04px;transform:translateZ(0) scaleX(1.0067)">Supply Chain</div>
<div class="t" id="l4" style="left:89px;top:511px;font-size:12.9px;color:#1e1e1e;text-indent:0.65px;transform:translateZ(0) scaleX(1.0886)">Digital Twin</div>
<div class="t" id="l5" style="left:89px;top:542px;font-size:12.9px;color:#1e1e1e;text-indent:0.76px;transform:translateZ(0) scaleX(1.0217)">Research &amp; Ideation</div>
<div class="t" id="l6" style="left:89px;top:574px;font-size:12.9px;color:#1e1e1e;text-indent:0.71px;transform:translateZ(0) scaleX(1.0552)">Engineering</div>
<div class="t bl" style="left:75px;top:416px;text-indent:0.55px">•</div>
<div class="t bl" style="left:75px;top:448px;text-indent:0.55px">•</div>
<div class="t bl" style="left:75px;top:479px;text-indent:0.55px">•</div>
<div class="t bl" style="left:75px;top:511px;text-indent:0.55px">•</div>
<div class="t bl" style="left:75px;top:542px;text-indent:0.55px">•</div>
<div class="t bl" style="left:75px;top:574px;text-indent:0.55px">•</div>
</div>
</body>
</html>
